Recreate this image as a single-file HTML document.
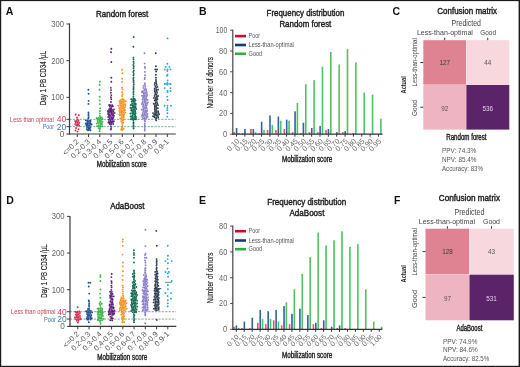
<!DOCTYPE html>
<html><head><meta charset="utf-8"><style>
html,body{margin:0;padding:0;background:#fff;width:520px;height:367px;overflow:hidden}
svg{display:block;will-change:transform}
text{font-family:"Liberation Sans", sans-serif}
</style></head><body>
<svg width="520" height="367" viewBox="0 0 520 367" font-family='"Liberation Sans", sans-serif'><rect x="0.00" y="0.00" width="520.00" height="367.00" fill="#fff"/>
<text x="5.8" y="14.9" font-size="10.5" font-weight="bold" fill="#111" text-anchor="start">A</text>
<text x="198.9" y="15" font-size="10.5" font-weight="bold" fill="#111" text-anchor="start">B</text>
<text x="392.6" y="15" font-size="10.5" font-weight="bold" fill="#111" text-anchor="start">C</text>
<text x="6.2" y="203.7" font-size="10.5" font-weight="bold" fill="#111" text-anchor="start">D</text>
<text x="199.0" y="204.4" font-size="10.5" font-weight="bold" fill="#111" text-anchor="start">E</text>
<text x="394.0" y="203.8" font-size="10.5" font-weight="bold" fill="#111" text-anchor="start">F</text>
<text x="96" y="16.5" font-size="9" font-weight="normal" fill="#1a1a1a" text-anchor="start" textLength="52.3" lengthAdjust="spacingAndGlyphs" stroke="#1a1a1a" stroke-width="0.4">Random forest</text>
<text transform="translate(46.2,78.05) rotate(-90)" font-size="8.4" font-weight="normal" fill="#222" text-anchor="middle" textLength="54.300000000000004" lengthAdjust="spacingAndGlyphs" stroke="#222" stroke-width="0.15">Day 1 PB CD34 /µL</text>
<line x1="69.5" y1="119.332" x2="175.5" y2="119.332" stroke="#5fa898" stroke-width="0.9" stroke-dasharray="2.2 1.2"/>
<line x1="69.5" y1="126.666" x2="175.5" y2="126.666" stroke="#5fa898" stroke-width="0.9" stroke-dasharray="2.2 1.2"/>
<circle cx="75.70" cy="114.50" r="0.95" fill="#d42a4f"/>
<circle cx="78.80" cy="115.20" r="0.95" fill="#d42a4f"/>
<circle cx="77.00" cy="117.50" r="0.95" fill="#d42a4f"/>
<circle cx="77.50" cy="119.40" r="0.95" fill="#d42a4f"/>
<circle cx="76.00" cy="128.00" r="0.95" fill="#d42a4f"/>
<circle cx="78.50" cy="129.30" r="0.95" fill="#d42a4f"/>
<circle cx="75.50" cy="130.50" r="0.95" fill="#d42a4f"/>
<circle cx="77.50" cy="131.60" r="0.95" fill="#d42a4f"/>
<circle cx="75.04" cy="121.09" r="0.95" fill="#d42a4f"/>
<circle cx="76.64" cy="121.02" r="0.95" fill="#d42a4f"/>
<circle cx="78.47" cy="120.73" r="0.95" fill="#d42a4f"/>
<circle cx="75.77" cy="122.46" r="0.95" fill="#d42a4f"/>
<circle cx="77.44" cy="122.25" r="0.95" fill="#d42a4f"/>
<circle cx="79.30" cy="122.70" r="0.95" fill="#d42a4f"/>
<circle cx="75.08" cy="124.08" r="0.95" fill="#d42a4f"/>
<circle cx="77.17" cy="124.05" r="0.95" fill="#d42a4f"/>
<circle cx="78.49" cy="124.29" r="0.95" fill="#d42a4f"/>
<circle cx="76.27" cy="125.37" r="0.95" fill="#d42a4f"/>
<circle cx="77.49" cy="125.27" r="0.95" fill="#d42a4f"/>
<circle cx="79.24" cy="125.69" r="0.95" fill="#d42a4f"/>
<circle cx="88.36" cy="89.70" r="0.95" fill="#1f4f8f"/>
<circle cx="88.60" cy="93.80" r="0.95" fill="#1f4f8f"/>
<circle cx="88.63" cy="100.90" r="0.95" fill="#1f4f8f"/>
<circle cx="88.47" cy="103.90" r="0.95" fill="#1f4f8f"/>
<circle cx="88.44" cy="112.34" r="0.95" fill="#1f4f8f"/>
<circle cx="88.54" cy="113.92" r="0.95" fill="#1f4f8f"/>
<circle cx="88.48" cy="115.56" r="0.95" fill="#1f4f8f"/>
<circle cx="88.61" cy="117.15" r="0.95" fill="#1f4f8f"/>
<circle cx="88.42" cy="118.48" r="0.95" fill="#1f4f8f"/>
<circle cx="85.79" cy="120.35" r="0.95" fill="#1f4f8f"/>
<circle cx="87.37" cy="120.52" r="0.95" fill="#1f4f8f"/>
<circle cx="89.20" cy="120.64" r="0.95" fill="#1f4f8f"/>
<circle cx="90.50" cy="120.79" r="0.95" fill="#1f4f8f"/>
<circle cx="87.25" cy="122.05" r="0.95" fill="#1f4f8f"/>
<circle cx="88.74" cy="121.89" r="0.95" fill="#1f4f8f"/>
<circle cx="90.32" cy="122.00" r="0.95" fill="#1f4f8f"/>
<circle cx="85.72" cy="123.53" r="0.95" fill="#1f4f8f"/>
<circle cx="87.21" cy="123.42" r="0.95" fill="#1f4f8f"/>
<circle cx="89.03" cy="123.35" r="0.95" fill="#1f4f8f"/>
<circle cx="90.60" cy="123.50" r="0.95" fill="#1f4f8f"/>
<circle cx="86.46" cy="124.80" r="0.95" fill="#1f4f8f"/>
<circle cx="87.86" cy="124.82" r="0.95" fill="#1f4f8f"/>
<circle cx="89.86" cy="125.00" r="0.95" fill="#1f4f8f"/>
<circle cx="91.62" cy="124.57" r="0.95" fill="#1f4f8f"/>
<circle cx="86.60" cy="125.81" r="0.95" fill="#1f4f8f"/>
<circle cx="88.13" cy="125.90" r="0.95" fill="#1f4f8f"/>
<circle cx="89.57" cy="125.84" r="0.95" fill="#1f4f8f"/>
<circle cx="87.08" cy="127.35" r="0.95" fill="#1f4f8f"/>
<circle cx="88.88" cy="127.72" r="0.95" fill="#1f4f8f"/>
<circle cx="90.35" cy="127.47" r="0.95" fill="#1f4f8f"/>
<circle cx="86.73" cy="129.09" r="0.95" fill="#1f4f8f"/>
<circle cx="88.37" cy="128.77" r="0.95" fill="#1f4f8f"/>
<circle cx="89.75" cy="128.82" r="0.95" fill="#1f4f8f"/>
<circle cx="87.57" cy="130.09" r="0.95" fill="#1f4f8f"/>
<circle cx="88.76" cy="130.14" r="0.95" fill="#1f4f8f"/>
<circle cx="90.44" cy="130.29" r="0.95" fill="#1f4f8f"/>
<circle cx="99.85" cy="81.80" r="0.95" fill="#3cb54a"/>
<circle cx="99.66" cy="85.00" r="0.95" fill="#3cb54a"/>
<circle cx="99.50" cy="89.70" r="0.95" fill="#3cb54a"/>
<circle cx="99.75" cy="96.80" r="0.95" fill="#3cb54a"/>
<circle cx="99.72" cy="100.50" r="0.95" fill="#3cb54a"/>
<circle cx="99.84" cy="104.30" r="0.95" fill="#3cb54a"/>
<circle cx="100.07" cy="108.40" r="0.95" fill="#3cb54a"/>
<circle cx="99.91" cy="111.00" r="0.95" fill="#3cb54a"/>
<circle cx="99.81" cy="113.50" r="0.95" fill="#3cb54a"/>
<circle cx="99.87" cy="116.00" r="0.95" fill="#3cb54a"/>
<circle cx="96.66" cy="118.04" r="0.95" fill="#3cb54a"/>
<circle cx="98.74" cy="118.02" r="0.95" fill="#3cb54a"/>
<circle cx="100.40" cy="117.74" r="0.95" fill="#3cb54a"/>
<circle cx="101.81" cy="117.56" r="0.95" fill="#3cb54a"/>
<circle cx="97.46" cy="118.94" r="0.95" fill="#3cb54a"/>
<circle cx="99.20" cy="119.00" r="0.95" fill="#3cb54a"/>
<circle cx="100.93" cy="118.93" r="0.95" fill="#3cb54a"/>
<circle cx="102.38" cy="118.99" r="0.95" fill="#3cb54a"/>
<circle cx="97.67" cy="120.32" r="0.95" fill="#3cb54a"/>
<circle cx="99.62" cy="120.67" r="0.95" fill="#3cb54a"/>
<circle cx="100.84" cy="120.45" r="0.95" fill="#3cb54a"/>
<circle cx="97.64" cy="121.77" r="0.95" fill="#3cb54a"/>
<circle cx="99.58" cy="122.30" r="0.95" fill="#3cb54a"/>
<circle cx="101.00" cy="121.99" r="0.95" fill="#3cb54a"/>
<circle cx="102.43" cy="121.76" r="0.95" fill="#3cb54a"/>
<circle cx="96.78" cy="123.60" r="0.95" fill="#3cb54a"/>
<circle cx="98.37" cy="123.11" r="0.95" fill="#3cb54a"/>
<circle cx="100.50" cy="123.42" r="0.95" fill="#3cb54a"/>
<circle cx="101.66" cy="123.43" r="0.95" fill="#3cb54a"/>
<circle cx="98.57" cy="125.09" r="0.95" fill="#3cb54a"/>
<circle cx="100.42" cy="124.92" r="0.95" fill="#3cb54a"/>
<circle cx="101.71" cy="124.72" r="0.95" fill="#3cb54a"/>
<circle cx="97.09" cy="126.22" r="0.95" fill="#3cb54a"/>
<circle cx="98.74" cy="126.10" r="0.95" fill="#3cb54a"/>
<circle cx="100.06" cy="126.39" r="0.95" fill="#3cb54a"/>
<circle cx="102.17" cy="126.41" r="0.95" fill="#3cb54a"/>
<circle cx="98.77" cy="128.14" r="0.95" fill="#3cb54a"/>
<circle cx="100.06" cy="128.01" r="0.95" fill="#3cb54a"/>
<circle cx="99.78" cy="129.22" r="0.95" fill="#3cb54a"/>
<circle cx="99.61" cy="131.12" r="0.95" fill="#3cb54a"/>
<circle cx="111.32" cy="48.80" r="0.95" fill="#5b1f78"/>
<circle cx="111.02" cy="52.30" r="0.95" fill="#5b1f78"/>
<circle cx="111.31" cy="62.00" r="0.95" fill="#5b1f78"/>
<circle cx="111.34" cy="77.70" r="0.95" fill="#5b1f78"/>
<circle cx="111.32" cy="81.80" r="0.95" fill="#5b1f78"/>
<circle cx="110.89" cy="87.83" r="0.95" fill="#5b1f78"/>
<circle cx="111.09" cy="90.12" r="0.95" fill="#5b1f78"/>
<circle cx="110.84" cy="92.67" r="0.95" fill="#5b1f78"/>
<circle cx="111.29" cy="95.10" r="0.95" fill="#5b1f78"/>
<circle cx="110.92" cy="97.29" r="0.95" fill="#5b1f78"/>
<circle cx="111.26" cy="99.25" r="0.95" fill="#5b1f78"/>
<circle cx="110.98" cy="102.05" r="0.95" fill="#5b1f78"/>
<circle cx="109.15" cy="104.99" r="0.95" fill="#5b1f78"/>
<circle cx="110.46" cy="105.17" r="0.95" fill="#5b1f78"/>
<circle cx="112.20" cy="105.18" r="0.95" fill="#5b1f78"/>
<circle cx="109.74" cy="106.39" r="0.95" fill="#5b1f78"/>
<circle cx="111.72" cy="106.58" r="0.95" fill="#5b1f78"/>
<circle cx="112.90" cy="106.23" r="0.95" fill="#5b1f78"/>
<circle cx="110.07" cy="108.08" r="0.95" fill="#5b1f78"/>
<circle cx="111.26" cy="108.10" r="0.95" fill="#5b1f78"/>
<circle cx="109.07" cy="109.26" r="0.95" fill="#5b1f78"/>
<circle cx="110.65" cy="109.13" r="0.95" fill="#5b1f78"/>
<circle cx="111.98" cy="109.63" r="0.95" fill="#5b1f78"/>
<circle cx="114.01" cy="109.37" r="0.95" fill="#5b1f78"/>
<circle cx="108.14" cy="111.02" r="0.95" fill="#5b1f78"/>
<circle cx="110.02" cy="110.63" r="0.95" fill="#5b1f78"/>
<circle cx="111.33" cy="110.68" r="0.95" fill="#5b1f78"/>
<circle cx="112.97" cy="110.85" r="0.95" fill="#5b1f78"/>
<circle cx="108.13" cy="111.28" r="0.95" fill="#5b1f78"/>
<circle cx="110.07" cy="111.41" r="0.95" fill="#5b1f78"/>
<circle cx="111.45" cy="111.55" r="0.95" fill="#5b1f78"/>
<circle cx="113.37" cy="111.45" r="0.95" fill="#5b1f78"/>
<circle cx="108.15" cy="112.92" r="0.95" fill="#5b1f78"/>
<circle cx="109.81" cy="112.61" r="0.95" fill="#5b1f78"/>
<circle cx="111.41" cy="112.71" r="0.95" fill="#5b1f78"/>
<circle cx="112.80" cy="113.08" r="0.95" fill="#5b1f78"/>
<circle cx="114.55" cy="112.88" r="0.95" fill="#5b1f78"/>
<circle cx="108.21" cy="114.20" r="0.95" fill="#5b1f78"/>
<circle cx="109.84" cy="114.33" r="0.95" fill="#5b1f78"/>
<circle cx="111.65" cy="114.06" r="0.95" fill="#5b1f78"/>
<circle cx="113.16" cy="114.15" r="0.95" fill="#5b1f78"/>
<circle cx="109.14" cy="115.70" r="0.95" fill="#5b1f78"/>
<circle cx="110.66" cy="115.86" r="0.95" fill="#5b1f78"/>
<circle cx="112.52" cy="115.67" r="0.95" fill="#5b1f78"/>
<circle cx="113.99" cy="115.70" r="0.95" fill="#5b1f78"/>
<circle cx="108.29" cy="117.07" r="0.95" fill="#5b1f78"/>
<circle cx="109.84" cy="117.09" r="0.95" fill="#5b1f78"/>
<circle cx="111.74" cy="117.22" r="0.95" fill="#5b1f78"/>
<circle cx="113.35" cy="117.37" r="0.95" fill="#5b1f78"/>
<circle cx="109.84" cy="118.77" r="0.95" fill="#5b1f78"/>
<circle cx="111.65" cy="118.28" r="0.95" fill="#5b1f78"/>
<circle cx="112.87" cy="118.47" r="0.95" fill="#5b1f78"/>
<circle cx="108.84" cy="119.64" r="0.95" fill="#5b1f78"/>
<circle cx="110.75" cy="120.07" r="0.95" fill="#5b1f78"/>
<circle cx="112.54" cy="119.69" r="0.95" fill="#5b1f78"/>
<circle cx="109.07" cy="121.09" r="0.95" fill="#5b1f78"/>
<circle cx="110.85" cy="121.58" r="0.95" fill="#5b1f78"/>
<circle cx="112.11" cy="121.57" r="0.95" fill="#5b1f78"/>
<circle cx="113.86" cy="121.29" r="0.95" fill="#5b1f78"/>
<circle cx="108.37" cy="122.50" r="0.95" fill="#5b1f78"/>
<circle cx="109.78" cy="122.71" r="0.95" fill="#5b1f78"/>
<circle cx="111.38" cy="122.52" r="0.95" fill="#5b1f78"/>
<circle cx="113.02" cy="122.83" r="0.95" fill="#5b1f78"/>
<circle cx="109.83" cy="124.06" r="0.95" fill="#5b1f78"/>
<circle cx="111.16" cy="124.00" r="0.95" fill="#5b1f78"/>
<circle cx="113.17" cy="124.11" r="0.95" fill="#5b1f78"/>
<circle cx="110.80" cy="126.29" r="0.95" fill="#5b1f78"/>
<circle cx="111.26" cy="128.08" r="0.95" fill="#5b1f78"/>
<circle cx="110.81" cy="129.46" r="0.95" fill="#5b1f78"/>
<circle cx="122.02" cy="69.70" r="0.95" fill="#f7931e"/>
<circle cx="122.47" cy="73.30" r="0.95" fill="#f7931e"/>
<circle cx="122.16" cy="78.80" r="0.95" fill="#f7931e"/>
<circle cx="122.08" cy="81.90" r="0.95" fill="#f7931e"/>
<circle cx="122.16" cy="87.75" r="0.95" fill="#f7931e"/>
<circle cx="122.52" cy="89.56" r="0.95" fill="#f7931e"/>
<circle cx="122.07" cy="92.15" r="0.95" fill="#f7931e"/>
<circle cx="122.44" cy="94.22" r="0.95" fill="#f7931e"/>
<circle cx="122.06" cy="96.03" r="0.95" fill="#f7931e"/>
<circle cx="122.48" cy="98.46" r="0.95" fill="#f7931e"/>
<circle cx="120.51" cy="100.08" r="0.95" fill="#f7931e"/>
<circle cx="122.08" cy="99.75" r="0.95" fill="#f7931e"/>
<circle cx="123.76" cy="99.74" r="0.95" fill="#f7931e"/>
<circle cx="119.37" cy="101.30" r="0.95" fill="#f7931e"/>
<circle cx="121.08" cy="101.66" r="0.95" fill="#f7931e"/>
<circle cx="122.56" cy="101.18" r="0.95" fill="#f7931e"/>
<circle cx="124.37" cy="101.24" r="0.95" fill="#f7931e"/>
<circle cx="125.77" cy="101.20" r="0.95" fill="#f7931e"/>
<circle cx="120.07" cy="102.69" r="0.95" fill="#f7931e"/>
<circle cx="121.78" cy="102.96" r="0.95" fill="#f7931e"/>
<circle cx="123.42" cy="102.80" r="0.95" fill="#f7931e"/>
<circle cx="120.13" cy="103.91" r="0.95" fill="#f7931e"/>
<circle cx="121.73" cy="103.91" r="0.95" fill="#f7931e"/>
<circle cx="123.66" cy="104.23" r="0.95" fill="#f7931e"/>
<circle cx="124.99" cy="104.18" r="0.95" fill="#f7931e"/>
<circle cx="118.36" cy="105.79" r="0.95" fill="#f7931e"/>
<circle cx="120.21" cy="105.60" r="0.95" fill="#f7931e"/>
<circle cx="122.10" cy="105.54" r="0.95" fill="#f7931e"/>
<circle cx="123.55" cy="105.71" r="0.95" fill="#f7931e"/>
<circle cx="125.49" cy="105.51" r="0.95" fill="#f7931e"/>
<circle cx="120.35" cy="107.08" r="0.95" fill="#f7931e"/>
<circle cx="121.82" cy="106.91" r="0.95" fill="#f7931e"/>
<circle cx="123.26" cy="106.78" r="0.95" fill="#f7931e"/>
<circle cx="124.92" cy="107.14" r="0.95" fill="#f7931e"/>
<circle cx="119.22" cy="108.15" r="0.95" fill="#f7931e"/>
<circle cx="121.28" cy="108.62" r="0.95" fill="#f7931e"/>
<circle cx="122.83" cy="108.27" r="0.95" fill="#f7931e"/>
<circle cx="124.22" cy="108.28" r="0.95" fill="#f7931e"/>
<circle cx="120.02" cy="109.77" r="0.95" fill="#f7931e"/>
<circle cx="121.73" cy="110.08" r="0.95" fill="#f7931e"/>
<circle cx="123.81" cy="109.83" r="0.95" fill="#f7931e"/>
<circle cx="125.02" cy="110.08" r="0.95" fill="#f7931e"/>
<circle cx="119.34" cy="110.90" r="0.95" fill="#f7931e"/>
<circle cx="121.00" cy="111.18" r="0.95" fill="#f7931e"/>
<circle cx="122.73" cy="111.02" r="0.95" fill="#f7931e"/>
<circle cx="124.38" cy="110.90" r="0.95" fill="#f7931e"/>
<circle cx="119.98" cy="112.54" r="0.95" fill="#f7931e"/>
<circle cx="121.60" cy="112.31" r="0.95" fill="#f7931e"/>
<circle cx="123.41" cy="112.44" r="0.95" fill="#f7931e"/>
<circle cx="125.23" cy="112.62" r="0.95" fill="#f7931e"/>
<circle cx="119.52" cy="114.13" r="0.95" fill="#f7931e"/>
<circle cx="121.30" cy="113.93" r="0.95" fill="#f7931e"/>
<circle cx="122.62" cy="114.29" r="0.95" fill="#f7931e"/>
<circle cx="124.16" cy="114.13" r="0.95" fill="#f7931e"/>
<circle cx="119.98" cy="115.20" r="0.95" fill="#f7931e"/>
<circle cx="122.14" cy="115.08" r="0.95" fill="#f7931e"/>
<circle cx="123.69" cy="115.19" r="0.95" fill="#f7931e"/>
<circle cx="121.89" cy="116.50" r="0.95" fill="#f7931e"/>
<circle cx="123.73" cy="116.68" r="0.95" fill="#f7931e"/>
<circle cx="120.30" cy="118.24" r="0.95" fill="#f7931e"/>
<circle cx="122.01" cy="118.12" r="0.95" fill="#f7931e"/>
<circle cx="123.39" cy="117.72" r="0.95" fill="#f7931e"/>
<circle cx="121.79" cy="119.26" r="0.95" fill="#f7931e"/>
<circle cx="123.73" cy="119.54" r="0.95" fill="#f7931e"/>
<circle cx="121.15" cy="121.11" r="0.95" fill="#f7931e"/>
<circle cx="122.72" cy="120.70" r="0.95" fill="#f7931e"/>
<circle cx="122.02" cy="122.50" r="0.95" fill="#f7931e"/>
<circle cx="123.55" cy="122.60" r="0.95" fill="#f7931e"/>
<circle cx="122.25" cy="123.85" r="0.95" fill="#f7931e"/>
<circle cx="122.35" cy="125.64" r="0.95" fill="#f7931e"/>
<circle cx="122.25" cy="127.29" r="0.95" fill="#f7931e"/>
<circle cx="121.80" cy="128.49" r="0.95" fill="#f7931e"/>
<circle cx="123.64" cy="128.66" r="0.95" fill="#f7931e"/>
<circle cx="121.16" cy="129.75" r="0.95" fill="#f7931e"/>
<circle cx="122.51" cy="129.85" r="0.95" fill="#f7931e"/>
<circle cx="133.70" cy="37.00" r="0.95" fill="#0b6b50"/>
<circle cx="133.43" cy="46.80" r="0.95" fill="#0b6b50"/>
<circle cx="133.45" cy="57.71" r="0.95" fill="#0b6b50"/>
<circle cx="133.54" cy="59.61" r="0.95" fill="#0b6b50"/>
<circle cx="133.48" cy="61.62" r="0.95" fill="#0b6b50"/>
<circle cx="133.72" cy="63.12" r="0.95" fill="#0b6b50"/>
<circle cx="133.43" cy="64.98" r="0.95" fill="#0b6b50"/>
<circle cx="133.66" cy="66.52" r="0.95" fill="#0b6b50"/>
<circle cx="133.55" cy="68.32" r="0.95" fill="#0b6b50"/>
<circle cx="133.81" cy="70.51" r="0.95" fill="#0b6b50"/>
<circle cx="133.29" cy="71.98" r="0.95" fill="#0b6b50"/>
<circle cx="133.77" cy="74.03" r="0.95" fill="#0b6b50"/>
<circle cx="133.41" cy="75.36" r="0.95" fill="#0b6b50"/>
<circle cx="133.58" cy="77.52" r="0.95" fill="#0b6b50"/>
<circle cx="133.34" cy="79.05" r="0.95" fill="#0b6b50"/>
<circle cx="133.56" cy="80.76" r="0.95" fill="#0b6b50"/>
<circle cx="133.57" cy="82.28" r="0.95" fill="#0b6b50"/>
<circle cx="133.77" cy="84.26" r="0.95" fill="#0b6b50"/>
<circle cx="133.55" cy="86.12" r="0.95" fill="#0b6b50"/>
<circle cx="133.59" cy="87.99" r="0.95" fill="#0b6b50"/>
<circle cx="133.43" cy="89.21" r="0.95" fill="#0b6b50"/>
<circle cx="133.52" cy="91.25" r="0.95" fill="#0b6b50"/>
<circle cx="133.42" cy="92.88" r="0.95" fill="#0b6b50"/>
<circle cx="133.56" cy="94.66" r="0.95" fill="#0b6b50"/>
<circle cx="133.37" cy="96.70" r="0.95" fill="#0b6b50"/>
<circle cx="133.52" cy="98.40" r="0.95" fill="#0b6b50"/>
<circle cx="131.27" cy="99.26" r="0.95" fill="#0b6b50"/>
<circle cx="133.28" cy="99.24" r="0.95" fill="#0b6b50"/>
<circle cx="134.67" cy="98.92" r="0.95" fill="#0b6b50"/>
<circle cx="132.60" cy="100.50" r="0.95" fill="#0b6b50"/>
<circle cx="133.87" cy="100.41" r="0.95" fill="#0b6b50"/>
<circle cx="135.47" cy="100.18" r="0.95" fill="#0b6b50"/>
<circle cx="131.70" cy="101.77" r="0.95" fill="#0b6b50"/>
<circle cx="133.41" cy="101.75" r="0.95" fill="#0b6b50"/>
<circle cx="134.66" cy="101.91" r="0.95" fill="#0b6b50"/>
<circle cx="132.22" cy="103.62" r="0.95" fill="#0b6b50"/>
<circle cx="134.18" cy="103.54" r="0.95" fill="#0b6b50"/>
<circle cx="135.68" cy="103.60" r="0.95" fill="#0b6b50"/>
<circle cx="130.70" cy="104.93" r="0.95" fill="#0b6b50"/>
<circle cx="132.05" cy="104.94" r="0.95" fill="#0b6b50"/>
<circle cx="133.95" cy="104.95" r="0.95" fill="#0b6b50"/>
<circle cx="135.71" cy="104.67" r="0.95" fill="#0b6b50"/>
<circle cx="132.56" cy="106.03" r="0.95" fill="#0b6b50"/>
<circle cx="133.93" cy="106.16" r="0.95" fill="#0b6b50"/>
<circle cx="135.48" cy="106.39" r="0.95" fill="#0b6b50"/>
<circle cx="130.53" cy="107.79" r="0.95" fill="#0b6b50"/>
<circle cx="132.21" cy="107.73" r="0.95" fill="#0b6b50"/>
<circle cx="133.91" cy="107.50" r="0.95" fill="#0b6b50"/>
<circle cx="135.42" cy="107.52" r="0.95" fill="#0b6b50"/>
<circle cx="131.47" cy="108.98" r="0.95" fill="#0b6b50"/>
<circle cx="133.37" cy="109.45" r="0.95" fill="#0b6b50"/>
<circle cx="134.74" cy="108.93" r="0.95" fill="#0b6b50"/>
<circle cx="136.24" cy="108.90" r="0.95" fill="#0b6b50"/>
<circle cx="131.25" cy="110.44" r="0.95" fill="#0b6b50"/>
<circle cx="133.01" cy="110.64" r="0.95" fill="#0b6b50"/>
<circle cx="135.03" cy="110.75" r="0.95" fill="#0b6b50"/>
<circle cx="132.25" cy="112.06" r="0.95" fill="#0b6b50"/>
<circle cx="133.88" cy="111.95" r="0.95" fill="#0b6b50"/>
<circle cx="135.34" cy="111.92" r="0.95" fill="#0b6b50"/>
<circle cx="130.45" cy="113.50" r="0.95" fill="#0b6b50"/>
<circle cx="132.40" cy="113.72" r="0.95" fill="#0b6b50"/>
<circle cx="133.80" cy="113.36" r="0.95" fill="#0b6b50"/>
<circle cx="135.47" cy="113.44" r="0.95" fill="#0b6b50"/>
<circle cx="132.57" cy="115.16" r="0.95" fill="#0b6b50"/>
<circle cx="134.17" cy="114.66" r="0.95" fill="#0b6b50"/>
<circle cx="135.32" cy="115.08" r="0.95" fill="#0b6b50"/>
<circle cx="130.66" cy="116.45" r="0.95" fill="#0b6b50"/>
<circle cx="132.03" cy="116.33" r="0.95" fill="#0b6b50"/>
<circle cx="134.23" cy="116.60" r="0.95" fill="#0b6b50"/>
<circle cx="135.84" cy="116.68" r="0.95" fill="#0b6b50"/>
<circle cx="132.07" cy="117.64" r="0.95" fill="#0b6b50"/>
<circle cx="133.96" cy="117.96" r="0.95" fill="#0b6b50"/>
<circle cx="135.86" cy="117.98" r="0.95" fill="#0b6b50"/>
<circle cx="130.83" cy="119.27" r="0.95" fill="#0b6b50"/>
<circle cx="132.36" cy="119.02" r="0.95" fill="#0b6b50"/>
<circle cx="134.14" cy="119.14" r="0.95" fill="#0b6b50"/>
<circle cx="135.88" cy="119.39" r="0.95" fill="#0b6b50"/>
<circle cx="133.37" cy="120.28" r="0.95" fill="#0b6b50"/>
<circle cx="133.60" cy="122.18" r="0.95" fill="#0b6b50"/>
<circle cx="133.49" cy="123.47" r="0.95" fill="#0b6b50"/>
<circle cx="133.54" cy="125.31" r="0.95" fill="#0b6b50"/>
<circle cx="133.45" cy="126.83" r="0.95" fill="#0b6b50"/>
<circle cx="133.59" cy="128.56" r="0.95" fill="#0b6b50"/>
<circle cx="144.51" cy="53.30" r="0.95" fill="#8a7fc8"/>
<circle cx="144.68" cy="63.60" r="0.95" fill="#8a7fc8"/>
<circle cx="144.78" cy="66.90" r="0.95" fill="#8a7fc8"/>
<circle cx="145.08" cy="68.00" r="0.95" fill="#8a7fc8"/>
<circle cx="144.89" cy="71.90" r="0.95" fill="#8a7fc8"/>
<circle cx="145.03" cy="75.30" r="0.95" fill="#8a7fc8"/>
<circle cx="144.79" cy="77.60" r="0.95" fill="#8a7fc8"/>
<circle cx="144.64" cy="79.00" r="0.95" fill="#8a7fc8"/>
<circle cx="144.82" cy="83.12" r="0.95" fill="#8a7fc8"/>
<circle cx="144.78" cy="84.50" r="0.95" fill="#8a7fc8"/>
<circle cx="143.53" cy="85.85" r="0.95" fill="#8a7fc8"/>
<circle cx="145.33" cy="86.26" r="0.95" fill="#8a7fc8"/>
<circle cx="143.30" cy="87.90" r="0.95" fill="#8a7fc8"/>
<circle cx="145.18" cy="88.11" r="0.95" fill="#8a7fc8"/>
<circle cx="144.55" cy="89.64" r="0.95" fill="#8a7fc8"/>
<circle cx="146.03" cy="89.32" r="0.95" fill="#8a7fc8"/>
<circle cx="142.64" cy="91.19" r="0.95" fill="#8a7fc8"/>
<circle cx="144.24" cy="90.83" r="0.95" fill="#8a7fc8"/>
<circle cx="146.21" cy="90.88" r="0.95" fill="#8a7fc8"/>
<circle cx="141.92" cy="92.31" r="0.95" fill="#8a7fc8"/>
<circle cx="143.41" cy="92.45" r="0.95" fill="#8a7fc8"/>
<circle cx="145.32" cy="92.77" r="0.95" fill="#8a7fc8"/>
<circle cx="146.66" cy="92.44" r="0.95" fill="#8a7fc8"/>
<circle cx="143.83" cy="93.74" r="0.95" fill="#8a7fc8"/>
<circle cx="144.93" cy="93.69" r="0.95" fill="#8a7fc8"/>
<circle cx="146.79" cy="94.19" r="0.95" fill="#8a7fc8"/>
<circle cx="142.06" cy="95.70" r="0.95" fill="#8a7fc8"/>
<circle cx="143.83" cy="95.30" r="0.95" fill="#8a7fc8"/>
<circle cx="145.04" cy="95.66" r="0.95" fill="#8a7fc8"/>
<circle cx="147.02" cy="95.12" r="0.95" fill="#8a7fc8"/>
<circle cx="143.48" cy="96.77" r="0.95" fill="#8a7fc8"/>
<circle cx="145.10" cy="96.65" r="0.95" fill="#8a7fc8"/>
<circle cx="146.55" cy="96.72" r="0.95" fill="#8a7fc8"/>
<circle cx="143.02" cy="98.07" r="0.95" fill="#8a7fc8"/>
<circle cx="144.68" cy="98.12" r="0.95" fill="#8a7fc8"/>
<circle cx="145.96" cy="98.49" r="0.95" fill="#8a7fc8"/>
<circle cx="142.68" cy="99.48" r="0.95" fill="#8a7fc8"/>
<circle cx="144.36" cy="99.67" r="0.95" fill="#8a7fc8"/>
<circle cx="146.28" cy="99.57" r="0.95" fill="#8a7fc8"/>
<circle cx="147.59" cy="99.99" r="0.95" fill="#8a7fc8"/>
<circle cx="142.70" cy="101.39" r="0.95" fill="#8a7fc8"/>
<circle cx="144.56" cy="100.92" r="0.95" fill="#8a7fc8"/>
<circle cx="145.77" cy="100.94" r="0.95" fill="#8a7fc8"/>
<circle cx="142.58" cy="102.80" r="0.95" fill="#8a7fc8"/>
<circle cx="144.61" cy="102.55" r="0.95" fill="#8a7fc8"/>
<circle cx="145.89" cy="102.92" r="0.95" fill="#8a7fc8"/>
<circle cx="147.75" cy="102.51" r="0.95" fill="#8a7fc8"/>
<circle cx="141.81" cy="103.97" r="0.95" fill="#8a7fc8"/>
<circle cx="143.28" cy="104.25" r="0.95" fill="#8a7fc8"/>
<circle cx="145.47" cy="104.18" r="0.95" fill="#8a7fc8"/>
<circle cx="147.14" cy="103.81" r="0.95" fill="#8a7fc8"/>
<circle cx="143.54" cy="105.82" r="0.95" fill="#8a7fc8"/>
<circle cx="145.47" cy="105.48" r="0.95" fill="#8a7fc8"/>
<circle cx="146.70" cy="105.51" r="0.95" fill="#8a7fc8"/>
<circle cx="143.01" cy="106.81" r="0.95" fill="#8a7fc8"/>
<circle cx="144.58" cy="107.14" r="0.95" fill="#8a7fc8"/>
<circle cx="146.24" cy="107.16" r="0.95" fill="#8a7fc8"/>
<circle cx="143.45" cy="108.34" r="0.95" fill="#8a7fc8"/>
<circle cx="145.12" cy="108.62" r="0.95" fill="#8a7fc8"/>
<circle cx="146.60" cy="108.27" r="0.95" fill="#8a7fc8"/>
<circle cx="141.77" cy="109.64" r="0.95" fill="#8a7fc8"/>
<circle cx="143.30" cy="109.93" r="0.95" fill="#8a7fc8"/>
<circle cx="145.12" cy="110.19" r="0.95" fill="#8a7fc8"/>
<circle cx="147.11" cy="110.19" r="0.95" fill="#8a7fc8"/>
<circle cx="143.30" cy="111.11" r="0.95" fill="#8a7fc8"/>
<circle cx="145.20" cy="111.48" r="0.95" fill="#8a7fc8"/>
<circle cx="146.82" cy="111.19" r="0.95" fill="#8a7fc8"/>
<circle cx="142.82" cy="112.90" r="0.95" fill="#8a7fc8"/>
<circle cx="144.55" cy="113.01" r="0.95" fill="#8a7fc8"/>
<circle cx="146.15" cy="112.57" r="0.95" fill="#8a7fc8"/>
<circle cx="142.60" cy="114.29" r="0.95" fill="#8a7fc8"/>
<circle cx="144.30" cy="114.39" r="0.95" fill="#8a7fc8"/>
<circle cx="145.84" cy="114.10" r="0.95" fill="#8a7fc8"/>
<circle cx="147.52" cy="114.04" r="0.95" fill="#8a7fc8"/>
<circle cx="141.97" cy="115.60" r="0.95" fill="#8a7fc8"/>
<circle cx="143.51" cy="116.00" r="0.95" fill="#8a7fc8"/>
<circle cx="145.23" cy="115.54" r="0.95" fill="#8a7fc8"/>
<circle cx="147.06" cy="115.79" r="0.95" fill="#8a7fc8"/>
<circle cx="142.49" cy="117.13" r="0.95" fill="#8a7fc8"/>
<circle cx="144.57" cy="117.35" r="0.95" fill="#8a7fc8"/>
<circle cx="146.27" cy="116.87" r="0.95" fill="#8a7fc8"/>
<circle cx="147.55" cy="116.92" r="0.95" fill="#8a7fc8"/>
<circle cx="143.03" cy="118.65" r="0.95" fill="#8a7fc8"/>
<circle cx="144.66" cy="118.52" r="0.95" fill="#8a7fc8"/>
<circle cx="146.27" cy="118.57" r="0.95" fill="#8a7fc8"/>
<circle cx="144.61" cy="120.17" r="0.95" fill="#8a7fc8"/>
<circle cx="145.05" cy="121.56" r="0.95" fill="#8a7fc8"/>
<circle cx="144.71" cy="123.67" r="0.95" fill="#8a7fc8"/>
<circle cx="144.84" cy="125.32" r="0.95" fill="#8a7fc8"/>
<circle cx="144.57" cy="127.02" r="0.95" fill="#8a7fc8"/>
<circle cx="144.85" cy="129.06" r="0.95" fill="#8a7fc8"/>
<circle cx="144.73" cy="130.62" r="0.95" fill="#8a7fc8"/>
<circle cx="155.76" cy="53.30" r="0.95" fill="#2c3e50"/>
<circle cx="155.95" cy="66.20" r="0.95" fill="#2c3e50"/>
<circle cx="155.30" cy="69.50" r="0.95" fill="#2c3e50"/>
<circle cx="157.00" cy="69.50" r="0.95" fill="#2c3e50"/>
<circle cx="156.16" cy="71.50" r="0.95" fill="#2c3e50"/>
<circle cx="155.86" cy="74.80" r="0.95" fill="#2c3e50"/>
<circle cx="155.94" cy="77.70" r="0.95" fill="#2c3e50"/>
<circle cx="156.02" cy="80.03" r="0.95" fill="#2c3e50"/>
<circle cx="156.05" cy="81.54" r="0.95" fill="#2c3e50"/>
<circle cx="154.91" cy="82.95" r="0.95" fill="#2c3e50"/>
<circle cx="156.27" cy="83.32" r="0.95" fill="#2c3e50"/>
<circle cx="154.69" cy="84.88" r="0.95" fill="#2c3e50"/>
<circle cx="156.75" cy="84.89" r="0.95" fill="#2c3e50"/>
<circle cx="155.54" cy="86.55" r="0.95" fill="#2c3e50"/>
<circle cx="157.49" cy="86.90" r="0.95" fill="#2c3e50"/>
<circle cx="154.64" cy="88.34" r="0.95" fill="#2c3e50"/>
<circle cx="156.30" cy="87.90" r="0.95" fill="#2c3e50"/>
<circle cx="154.75" cy="89.99" r="0.95" fill="#2c3e50"/>
<circle cx="156.39" cy="90.03" r="0.95" fill="#2c3e50"/>
<circle cx="158.08" cy="89.60" r="0.95" fill="#2c3e50"/>
<circle cx="154.86" cy="91.48" r="0.95" fill="#2c3e50"/>
<circle cx="156.72" cy="91.15" r="0.95" fill="#2c3e50"/>
<circle cx="155.55" cy="93.00" r="0.95" fill="#2c3e50"/>
<circle cx="157.06" cy="92.87" r="0.95" fill="#2c3e50"/>
<circle cx="155.08" cy="94.37" r="0.95" fill="#2c3e50"/>
<circle cx="156.47" cy="94.78" r="0.95" fill="#2c3e50"/>
<circle cx="154.62" cy="95.98" r="0.95" fill="#2c3e50"/>
<circle cx="156.72" cy="96.49" r="0.95" fill="#2c3e50"/>
<circle cx="158.09" cy="95.93" r="0.95" fill="#2c3e50"/>
<circle cx="153.93" cy="98.04" r="0.95" fill="#2c3e50"/>
<circle cx="155.72" cy="97.99" r="0.95" fill="#2c3e50"/>
<circle cx="157.10" cy="97.97" r="0.95" fill="#2c3e50"/>
<circle cx="155.57" cy="99.61" r="0.95" fill="#2c3e50"/>
<circle cx="157.47" cy="99.21" r="0.95" fill="#2c3e50"/>
<circle cx="154.76" cy="100.51" r="0.95" fill="#2c3e50"/>
<circle cx="156.41" cy="100.27" r="0.95" fill="#2c3e50"/>
<circle cx="155.76" cy="102.29" r="0.95" fill="#2c3e50"/>
<circle cx="157.00" cy="102.09" r="0.95" fill="#2c3e50"/>
<circle cx="153.72" cy="103.80" r="0.95" fill="#2c3e50"/>
<circle cx="155.42" cy="103.66" r="0.95" fill="#2c3e50"/>
<circle cx="157.33" cy="103.68" r="0.95" fill="#2c3e50"/>
<circle cx="154.75" cy="105.20" r="0.95" fill="#2c3e50"/>
<circle cx="156.41" cy="105.25" r="0.95" fill="#2c3e50"/>
<circle cx="158.07" cy="105.11" r="0.95" fill="#2c3e50"/>
<circle cx="154.90" cy="106.69" r="0.95" fill="#2c3e50"/>
<circle cx="156.32" cy="106.86" r="0.95" fill="#2c3e50"/>
<circle cx="154.77" cy="108.06" r="0.95" fill="#2c3e50"/>
<circle cx="156.43" cy="108.01" r="0.95" fill="#2c3e50"/>
<circle cx="157.88" cy="108.21" r="0.95" fill="#2c3e50"/>
<circle cx="154.79" cy="109.81" r="0.95" fill="#2c3e50"/>
<circle cx="156.20" cy="109.88" r="0.95" fill="#2c3e50"/>
<circle cx="154.94" cy="111.52" r="0.95" fill="#2c3e50"/>
<circle cx="156.46" cy="111.08" r="0.95" fill="#2c3e50"/>
<circle cx="158.10" cy="111.28" r="0.95" fill="#2c3e50"/>
<circle cx="152.96" cy="113.11" r="0.95" fill="#2c3e50"/>
<circle cx="155.12" cy="113.04" r="0.95" fill="#2c3e50"/>
<circle cx="156.66" cy="112.72" r="0.95" fill="#2c3e50"/>
<circle cx="158.41" cy="112.90" r="0.95" fill="#2c3e50"/>
<circle cx="154.22" cy="114.25" r="0.95" fill="#2c3e50"/>
<circle cx="155.80" cy="114.71" r="0.95" fill="#2c3e50"/>
<circle cx="157.01" cy="114.36" r="0.95" fill="#2c3e50"/>
<circle cx="159.08" cy="114.25" r="0.95" fill="#2c3e50"/>
<circle cx="153.04" cy="116.19" r="0.95" fill="#2c3e50"/>
<circle cx="154.61" cy="116.00" r="0.95" fill="#2c3e50"/>
<circle cx="156.73" cy="115.82" r="0.95" fill="#2c3e50"/>
<circle cx="157.98" cy="116.00" r="0.95" fill="#2c3e50"/>
<circle cx="154.52" cy="117.36" r="0.95" fill="#2c3e50"/>
<circle cx="156.25" cy="117.81" r="0.95" fill="#2c3e50"/>
<circle cx="158.21" cy="117.79" r="0.95" fill="#2c3e50"/>
<circle cx="156.02" cy="118.77" r="0.95" fill="#2c3e50"/>
<circle cx="156.21" cy="120.42" r="0.95" fill="#2c3e50"/>
<circle cx="167.52" cy="38.40" r="0.95" fill="#1ea7e8"/>
<circle cx="167.33" cy="63.80" r="0.95" fill="#1ea7e8"/>
<circle cx="165.70" cy="66.90" r="0.95" fill="#1ea7e8"/>
<circle cx="169.50" cy="66.90" r="0.95" fill="#1ea7e8"/>
<circle cx="164.70" cy="69.50" r="0.95" fill="#1ea7e8"/>
<circle cx="167.60" cy="69.50" r="0.95" fill="#1ea7e8"/>
<circle cx="170.50" cy="69.50" r="0.95" fill="#1ea7e8"/>
<circle cx="167.35" cy="71.00" r="0.95" fill="#1ea7e8"/>
<circle cx="167.53" cy="74.80" r="0.95" fill="#1ea7e8"/>
<circle cx="167.06" cy="75.70" r="0.95" fill="#1ea7e8"/>
<circle cx="167.60" cy="80.50" r="0.95" fill="#1ea7e8"/>
<circle cx="167.38" cy="82.90" r="0.95" fill="#1ea7e8"/>
<circle cx="164.70" cy="83.90" r="0.95" fill="#1ea7e8"/>
<circle cx="170.50" cy="83.90" r="0.95" fill="#1ea7e8"/>
<circle cx="167.24" cy="84.60" r="0.95" fill="#1ea7e8"/>
<circle cx="164.70" cy="88.10" r="0.95" fill="#1ea7e8"/>
<circle cx="170.50" cy="88.10" r="0.95" fill="#1ea7e8"/>
<circle cx="167.60" cy="91.00" r="0.95" fill="#1ea7e8"/>
<circle cx="170.50" cy="91.00" r="0.95" fill="#1ea7e8"/>
<circle cx="167.48" cy="92.00" r="0.95" fill="#1ea7e8"/>
<circle cx="167.16" cy="96.60" r="0.95" fill="#1ea7e8"/>
<circle cx="167.59" cy="100.00" r="0.95" fill="#1ea7e8"/>
<circle cx="164.60" cy="105.70" r="0.95" fill="#1ea7e8"/>
<circle cx="167.50" cy="105.70" r="0.95" fill="#1ea7e8"/>
<circle cx="170.90" cy="105.70" r="0.95" fill="#1ea7e8"/>
<circle cx="167.35" cy="108.00" r="0.95" fill="#1ea7e8"/>
<circle cx="167.22" cy="110.30" r="0.95" fill="#1ea7e8"/>
<circle cx="167.46" cy="113.20" r="0.95" fill="#1ea7e8"/>
<circle cx="167.27" cy="116.60" r="0.95" fill="#1ea7e8"/>
<line x1="164.6" y1="83.9" x2="171.2" y2="83.9" stroke="#1ea7e8" stroke-width="1.0"/>
<line x1="69.5" y1="23.5" x2="69.5" y2="134.6" stroke="#3a3a3a" stroke-width="1.2"/>
<line x1="68.9" y1="134.0" x2="175.8" y2="134.0" stroke="#3a3a3a" stroke-width="1.2"/>
<line x1="66.5" y1="23.989999999999995" x2="69.5" y2="23.989999999999995" stroke="#3a3a3a" stroke-width="1"/>
<text x="64.0" y="26.989999999999995" font-size="8.6" font-weight="normal" fill="#666" text-anchor="end" textLength="12.8" lengthAdjust="spacingAndGlyphs">300</text>
<line x1="66.5" y1="60.66" x2="69.5" y2="60.66" stroke="#3a3a3a" stroke-width="1"/>
<text x="64.0" y="63.66" font-size="8.6" font-weight="normal" fill="#666" text-anchor="end" textLength="12.8" lengthAdjust="spacingAndGlyphs">200</text>
<line x1="66.5" y1="97.33" x2="69.5" y2="97.33" stroke="#3a3a3a" stroke-width="1"/>
<text x="64.0" y="100.33" font-size="8.6" font-weight="normal" fill="#666" text-anchor="end" textLength="12.8" lengthAdjust="spacingAndGlyphs">100</text>
<line x1="66.5" y1="134.0" x2="69.5" y2="134.0" stroke="#3a3a3a" stroke-width="1"/>
<text x="64.3" y="137.0" font-size="8.6" font-weight="normal" fill="#666" text-anchor="end" textLength="4.6" lengthAdjust="spacingAndGlyphs">0</text>
<line x1="66.5" y1="119.332" x2="69.5" y2="119.332" stroke="#3a3a3a" stroke-width="1"/>
<line x1="66.5" y1="126.666" x2="69.5" y2="126.666" stroke="#3a3a3a" stroke-width="1"/>
<text x="66.3" y="122.232" font-size="9" font-weight="normal" fill="#d0415a" text-anchor="end" textLength="9.5" lengthAdjust="spacingAndGlyphs">40</text>
<text x="66.3" y="129.566" font-size="9" font-weight="normal" fill="#3f79ad" text-anchor="end" textLength="9.5" lengthAdjust="spacingAndGlyphs">20</text>
<text x="10.1" y="121.93199999999999" font-size="7.2" font-weight="normal" fill="#d0415a" text-anchor="start" textLength="43.6" lengthAdjust="spacingAndGlyphs">Less than optimal</text>
<text x="42.7" y="129.266" font-size="7.2" font-weight="normal" fill="#3f79ad" text-anchor="start" textLength="11.4" lengthAdjust="spacingAndGlyphs">Poor</text>
<line x1="77.3" y1="134.0" x2="77.3" y2="137.0" stroke="#3a3a3a" stroke-width="1"/>
<text transform="translate(79.3,142.2) rotate(-45)" font-size="7.6" font-weight="normal" fill="#555" text-anchor="end">&lt;=0.2</text>
<line x1="88.55" y1="134.0" x2="88.55" y2="137.0" stroke="#3a3a3a" stroke-width="1"/>
<text transform="translate(90.55,142.2) rotate(-45)" font-size="7.6" font-weight="normal" fill="#555" text-anchor="end">0.2-0.3</text>
<line x1="99.8" y1="134.0" x2="99.8" y2="137.0" stroke="#3a3a3a" stroke-width="1"/>
<text transform="translate(101.8,142.2) rotate(-45)" font-size="7.6" font-weight="normal" fill="#555" text-anchor="end">0.3-0.4</text>
<line x1="111.05" y1="134.0" x2="111.05" y2="137.0" stroke="#3a3a3a" stroke-width="1"/>
<text transform="translate(113.05,142.2) rotate(-45)" font-size="7.6" font-weight="normal" fill="#555" text-anchor="end">0.4-0.5</text>
<line x1="122.3" y1="134.0" x2="122.3" y2="137.0" stroke="#3a3a3a" stroke-width="1"/>
<text transform="translate(124.3,142.2) rotate(-45)" font-size="7.6" font-weight="normal" fill="#555" text-anchor="end">0.5-0.6</text>
<line x1="133.55" y1="134.0" x2="133.55" y2="137.0" stroke="#3a3a3a" stroke-width="1"/>
<text transform="translate(135.55,142.2) rotate(-45)" font-size="7.6" font-weight="normal" fill="#555" text-anchor="end">0.6-0.7</text>
<line x1="144.8" y1="134.0" x2="144.8" y2="137.0" stroke="#3a3a3a" stroke-width="1"/>
<text transform="translate(146.8,142.2) rotate(-45)" font-size="7.6" font-weight="normal" fill="#555" text-anchor="end">0.7-0.8</text>
<line x1="156.05" y1="134.0" x2="156.05" y2="137.0" stroke="#3a3a3a" stroke-width="1"/>
<text transform="translate(158.05,142.2) rotate(-45)" font-size="7.6" font-weight="normal" fill="#555" text-anchor="end">0.8-0.9</text>
<line x1="167.3" y1="134.0" x2="167.3" y2="137.0" stroke="#3a3a3a" stroke-width="1"/>
<text transform="translate(169.3,142.2) rotate(-45)" font-size="7.6" font-weight="normal" fill="#555" text-anchor="end">0.9-1</text>
<text x="96.8" y="167.3" font-size="8.6" font-weight="normal" fill="#222" text-anchor="start" textLength="50" lengthAdjust="spacingAndGlyphs" stroke="#222" stroke-width="0.4">Mobilization score</text>
<text x="110.2" y="208.9" font-size="9" font-weight="normal" fill="#1a1a1a" text-anchor="start" textLength="34.3" lengthAdjust="spacingAndGlyphs" stroke="#1a1a1a" stroke-width="0.4">AdaBoost</text>
<text transform="translate(46.7,271.0) rotate(-90)" font-size="8.4" font-weight="normal" fill="#222" text-anchor="middle" textLength="53.39999999999998" lengthAdjust="spacingAndGlyphs" stroke="#222" stroke-width="0.15">Day 1 PB CD34 /µL</text>
<line x1="70.0" y1="311.73199999999997" x2="176.0" y2="311.73199999999997" stroke="#8a8a8a" stroke-width="0.9" stroke-dasharray="2.2 1.2"/>
<line x1="70.0" y1="319.066" x2="176.0" y2="319.066" stroke="#8a8a8a" stroke-width="0.9" stroke-dasharray="2.2 1.2"/>
<circle cx="77.61" cy="307.20" r="0.95" fill="#d42a4f"/>
<circle cx="75.48" cy="311.69" r="0.95" fill="#d42a4f"/>
<circle cx="77.25" cy="311.58" r="0.95" fill="#d42a4f"/>
<circle cx="79.34" cy="311.55" r="0.95" fill="#d42a4f"/>
<circle cx="76.44" cy="312.75" r="0.95" fill="#d42a4f"/>
<circle cx="77.92" cy="312.84" r="0.95" fill="#d42a4f"/>
<circle cx="79.92" cy="313.01" r="0.95" fill="#d42a4f"/>
<circle cx="75.99" cy="314.38" r="0.95" fill="#d42a4f"/>
<circle cx="77.24" cy="314.69" r="0.95" fill="#d42a4f"/>
<circle cx="78.76" cy="314.30" r="0.95" fill="#d42a4f"/>
<circle cx="76.31" cy="316.06" r="0.95" fill="#d42a4f"/>
<circle cx="78.03" cy="316.20" r="0.95" fill="#d42a4f"/>
<circle cx="79.90" cy="315.97" r="0.95" fill="#d42a4f"/>
<circle cx="74.91" cy="317.48" r="0.95" fill="#d42a4f"/>
<circle cx="76.84" cy="317.55" r="0.95" fill="#d42a4f"/>
<circle cx="78.01" cy="317.46" r="0.95" fill="#d42a4f"/>
<circle cx="79.96" cy="317.92" r="0.95" fill="#d42a4f"/>
<circle cx="75.67" cy="319.11" r="0.95" fill="#d42a4f"/>
<circle cx="77.08" cy="319.34" r="0.95" fill="#d42a4f"/>
<circle cx="79.06" cy="319.16" r="0.95" fill="#d42a4f"/>
<circle cx="80.76" cy="319.22" r="0.95" fill="#d42a4f"/>
<circle cx="76.72" cy="320.85" r="0.95" fill="#d42a4f"/>
<circle cx="78.47" cy="320.73" r="0.95" fill="#d42a4f"/>
<circle cx="77.89" cy="322.44" r="0.95" fill="#d42a4f"/>
<circle cx="88.50" cy="282.70" r="0.95" fill="#1f4f8f"/>
<circle cx="90.30" cy="282.70" r="0.95" fill="#1f4f8f"/>
<circle cx="88.79" cy="286.50" r="0.95" fill="#1f4f8f"/>
<circle cx="89.22" cy="293.60" r="0.95" fill="#1f4f8f"/>
<circle cx="88.76" cy="300.40" r="0.95" fill="#1f4f8f"/>
<circle cx="89.06" cy="301.79" r="0.95" fill="#1f4f8f"/>
<circle cx="89.20" cy="303.70" r="0.95" fill="#1f4f8f"/>
<circle cx="89.02" cy="305.20" r="0.95" fill="#1f4f8f"/>
<circle cx="89.11" cy="306.83" r="0.95" fill="#1f4f8f"/>
<circle cx="87.99" cy="308.93" r="0.95" fill="#1f4f8f"/>
<circle cx="89.18" cy="309.01" r="0.95" fill="#1f4f8f"/>
<circle cx="86.15" cy="311.15" r="0.95" fill="#1f4f8f"/>
<circle cx="87.80" cy="310.84" r="0.95" fill="#1f4f8f"/>
<circle cx="89.24" cy="310.84" r="0.95" fill="#1f4f8f"/>
<circle cx="90.85" cy="310.90" r="0.95" fill="#1f4f8f"/>
<circle cx="87.09" cy="312.66" r="0.95" fill="#1f4f8f"/>
<circle cx="88.75" cy="312.31" r="0.95" fill="#1f4f8f"/>
<circle cx="90.31" cy="312.41" r="0.95" fill="#1f4f8f"/>
<circle cx="92.10" cy="312.46" r="0.95" fill="#1f4f8f"/>
<circle cx="87.09" cy="314.18" r="0.95" fill="#1f4f8f"/>
<circle cx="88.48" cy="314.13" r="0.95" fill="#1f4f8f"/>
<circle cx="90.01" cy="313.76" r="0.95" fill="#1f4f8f"/>
<circle cx="87.95" cy="315.62" r="0.95" fill="#1f4f8f"/>
<circle cx="89.60" cy="315.25" r="0.95" fill="#1f4f8f"/>
<circle cx="91.33" cy="315.25" r="0.95" fill="#1f4f8f"/>
<circle cx="87.24" cy="316.88" r="0.95" fill="#1f4f8f"/>
<circle cx="88.77" cy="316.90" r="0.95" fill="#1f4f8f"/>
<circle cx="90.59" cy="316.78" r="0.95" fill="#1f4f8f"/>
<circle cx="87.09" cy="318.46" r="0.95" fill="#1f4f8f"/>
<circle cx="88.59" cy="318.38" r="0.95" fill="#1f4f8f"/>
<circle cx="90.32" cy="318.13" r="0.95" fill="#1f4f8f"/>
<circle cx="91.75" cy="318.32" r="0.95" fill="#1f4f8f"/>
<circle cx="87.25" cy="319.49" r="0.95" fill="#1f4f8f"/>
<circle cx="88.37" cy="319.46" r="0.95" fill="#1f4f8f"/>
<circle cx="90.56" cy="319.61" r="0.95" fill="#1f4f8f"/>
<circle cx="88.79" cy="322.22" r="0.95" fill="#1f4f8f"/>
<circle cx="100.42" cy="275.20" r="0.95" fill="#3cb54a"/>
<circle cx="100.38" cy="277.00" r="0.95" fill="#3cb54a"/>
<circle cx="100.42" cy="281.00" r="0.95" fill="#3cb54a"/>
<circle cx="100.44" cy="289.50" r="0.95" fill="#3cb54a"/>
<circle cx="100.04" cy="293.60" r="0.95" fill="#3cb54a"/>
<circle cx="100.35" cy="297.70" r="0.95" fill="#3cb54a"/>
<circle cx="100.28" cy="301.99" r="0.95" fill="#3cb54a"/>
<circle cx="99.61" cy="303.72" r="0.95" fill="#3cb54a"/>
<circle cx="101.77" cy="303.77" r="0.95" fill="#3cb54a"/>
<circle cx="100.09" cy="304.97" r="0.95" fill="#3cb54a"/>
<circle cx="100.52" cy="307.09" r="0.95" fill="#3cb54a"/>
<circle cx="97.62" cy="308.68" r="0.95" fill="#3cb54a"/>
<circle cx="98.95" cy="308.36" r="0.95" fill="#3cb54a"/>
<circle cx="100.48" cy="308.75" r="0.95" fill="#3cb54a"/>
<circle cx="102.20" cy="308.49" r="0.95" fill="#3cb54a"/>
<circle cx="98.76" cy="309.90" r="0.95" fill="#3cb54a"/>
<circle cx="100.57" cy="310.18" r="0.95" fill="#3cb54a"/>
<circle cx="102.27" cy="309.94" r="0.95" fill="#3cb54a"/>
<circle cx="97.43" cy="311.71" r="0.95" fill="#3cb54a"/>
<circle cx="99.15" cy="311.22" r="0.95" fill="#3cb54a"/>
<circle cx="100.67" cy="311.46" r="0.95" fill="#3cb54a"/>
<circle cx="102.54" cy="311.41" r="0.95" fill="#3cb54a"/>
<circle cx="98.25" cy="312.78" r="0.95" fill="#3cb54a"/>
<circle cx="100.09" cy="312.70" r="0.95" fill="#3cb54a"/>
<circle cx="101.72" cy="312.75" r="0.95" fill="#3cb54a"/>
<circle cx="102.88" cy="312.77" r="0.95" fill="#3cb54a"/>
<circle cx="97.71" cy="314.10" r="0.95" fill="#3cb54a"/>
<circle cx="99.07" cy="314.39" r="0.95" fill="#3cb54a"/>
<circle cx="100.90" cy="314.21" r="0.95" fill="#3cb54a"/>
<circle cx="102.37" cy="314.31" r="0.95" fill="#3cb54a"/>
<circle cx="98.08" cy="316.12" r="0.95" fill="#3cb54a"/>
<circle cx="99.75" cy="315.68" r="0.95" fill="#3cb54a"/>
<circle cx="101.64" cy="315.85" r="0.95" fill="#3cb54a"/>
<circle cx="102.94" cy="315.93" r="0.95" fill="#3cb54a"/>
<circle cx="98.42" cy="317.42" r="0.95" fill="#3cb54a"/>
<circle cx="100.07" cy="317.38" r="0.95" fill="#3cb54a"/>
<circle cx="101.46" cy="317.24" r="0.95" fill="#3cb54a"/>
<circle cx="98.46" cy="318.50" r="0.95" fill="#3cb54a"/>
<circle cx="100.11" cy="318.47" r="0.95" fill="#3cb54a"/>
<circle cx="101.35" cy="318.61" r="0.95" fill="#3cb54a"/>
<circle cx="103.42" cy="318.75" r="0.95" fill="#3cb54a"/>
<circle cx="97.66" cy="320.04" r="0.95" fill="#3cb54a"/>
<circle cx="99.05" cy="320.22" r="0.95" fill="#3cb54a"/>
<circle cx="100.88" cy="320.35" r="0.95" fill="#3cb54a"/>
<circle cx="102.46" cy="320.11" r="0.95" fill="#3cb54a"/>
<circle cx="100.13" cy="321.79" r="0.95" fill="#3cb54a"/>
<circle cx="100.52" cy="323.70" r="0.95" fill="#3cb54a"/>
<circle cx="111.70" cy="274.00" r="0.95" fill="#5b1f78"/>
<circle cx="111.35" cy="277.10" r="0.95" fill="#5b1f78"/>
<circle cx="111.41" cy="281.16" r="0.95" fill="#5b1f78"/>
<circle cx="111.69" cy="282.98" r="0.95" fill="#5b1f78"/>
<circle cx="111.42" cy="285.63" r="0.95" fill="#5b1f78"/>
<circle cx="111.59" cy="287.41" r="0.95" fill="#5b1f78"/>
<circle cx="111.37" cy="289.92" r="0.95" fill="#5b1f78"/>
<circle cx="110.12" cy="291.79" r="0.95" fill="#5b1f78"/>
<circle cx="111.82" cy="291.90" r="0.95" fill="#5b1f78"/>
<circle cx="110.92" cy="293.45" r="0.95" fill="#5b1f78"/>
<circle cx="112.59" cy="293.84" r="0.95" fill="#5b1f78"/>
<circle cx="110.09" cy="295.38" r="0.95" fill="#5b1f78"/>
<circle cx="111.74" cy="295.03" r="0.95" fill="#5b1f78"/>
<circle cx="110.48" cy="296.79" r="0.95" fill="#5b1f78"/>
<circle cx="111.91" cy="296.47" r="0.95" fill="#5b1f78"/>
<circle cx="113.68" cy="296.41" r="0.95" fill="#5b1f78"/>
<circle cx="110.26" cy="297.92" r="0.95" fill="#5b1f78"/>
<circle cx="111.91" cy="298.37" r="0.95" fill="#5b1f78"/>
<circle cx="111.13" cy="299.83" r="0.95" fill="#5b1f78"/>
<circle cx="112.75" cy="299.54" r="0.95" fill="#5b1f78"/>
<circle cx="110.27" cy="301.44" r="0.95" fill="#5b1f78"/>
<circle cx="112.22" cy="301.26" r="0.95" fill="#5b1f78"/>
<circle cx="111.27" cy="302.80" r="0.95" fill="#5b1f78"/>
<circle cx="112.61" cy="302.98" r="0.95" fill="#5b1f78"/>
<circle cx="109.66" cy="304.52" r="0.95" fill="#5b1f78"/>
<circle cx="111.36" cy="304.51" r="0.95" fill="#5b1f78"/>
<circle cx="112.88" cy="304.37" r="0.95" fill="#5b1f78"/>
<circle cx="109.58" cy="305.76" r="0.95" fill="#5b1f78"/>
<circle cx="111.10" cy="306.17" r="0.95" fill="#5b1f78"/>
<circle cx="112.93" cy="306.08" r="0.95" fill="#5b1f78"/>
<circle cx="110.25" cy="307.42" r="0.95" fill="#5b1f78"/>
<circle cx="112.02" cy="307.40" r="0.95" fill="#5b1f78"/>
<circle cx="113.71" cy="307.71" r="0.95" fill="#5b1f78"/>
<circle cx="109.59" cy="309.07" r="0.95" fill="#5b1f78"/>
<circle cx="111.08" cy="308.89" r="0.95" fill="#5b1f78"/>
<circle cx="113.08" cy="308.62" r="0.95" fill="#5b1f78"/>
<circle cx="109.27" cy="310.52" r="0.95" fill="#5b1f78"/>
<circle cx="111.39" cy="310.36" r="0.95" fill="#5b1f78"/>
<circle cx="112.54" cy="310.39" r="0.95" fill="#5b1f78"/>
<circle cx="114.45" cy="310.48" r="0.95" fill="#5b1f78"/>
<circle cx="108.76" cy="312.00" r="0.95" fill="#5b1f78"/>
<circle cx="110.34" cy="311.75" r="0.95" fill="#5b1f78"/>
<circle cx="112.24" cy="311.63" r="0.95" fill="#5b1f78"/>
<circle cx="113.74" cy="311.74" r="0.95" fill="#5b1f78"/>
<circle cx="109.25" cy="313.54" r="0.95" fill="#5b1f78"/>
<circle cx="111.04" cy="312.98" r="0.95" fill="#5b1f78"/>
<circle cx="112.64" cy="313.19" r="0.95" fill="#5b1f78"/>
<circle cx="114.13" cy="313.20" r="0.95" fill="#5b1f78"/>
<circle cx="108.79" cy="314.61" r="0.95" fill="#5b1f78"/>
<circle cx="110.18" cy="314.53" r="0.95" fill="#5b1f78"/>
<circle cx="112.12" cy="314.96" r="0.95" fill="#5b1f78"/>
<circle cx="113.64" cy="314.53" r="0.95" fill="#5b1f78"/>
<circle cx="110.26" cy="316.83" r="0.95" fill="#5b1f78"/>
<circle cx="111.75" cy="317.17" r="0.95" fill="#5b1f78"/>
<circle cx="111.21" cy="318.58" r="0.95" fill="#5b1f78"/>
<circle cx="112.81" cy="318.44" r="0.95" fill="#5b1f78"/>
<circle cx="110.24" cy="320.28" r="0.95" fill="#5b1f78"/>
<circle cx="112.17" cy="320.39" r="0.95" fill="#5b1f78"/>
<circle cx="122.78" cy="239.40" r="0.95" fill="#f7931e"/>
<circle cx="122.68" cy="241.60" r="0.95" fill="#f7931e"/>
<circle cx="122.83" cy="245.70" r="0.95" fill="#f7931e"/>
<circle cx="122.58" cy="254.60" r="0.95" fill="#f7931e"/>
<circle cx="123.00" cy="262.50" r="0.95" fill="#f7931e"/>
<circle cx="122.71" cy="266.40" r="0.95" fill="#f7931e"/>
<circle cx="123.01" cy="271.30" r="0.95" fill="#f7931e"/>
<circle cx="122.66" cy="275.60" r="0.95" fill="#f7931e"/>
<circle cx="122.73" cy="280.00" r="0.95" fill="#f7931e"/>
<circle cx="122.66" cy="285.61" r="0.95" fill="#f7931e"/>
<circle cx="122.99" cy="287.57" r="0.95" fill="#f7931e"/>
<circle cx="122.62" cy="289.59" r="0.95" fill="#f7931e"/>
<circle cx="122.96" cy="291.60" r="0.95" fill="#f7931e"/>
<circle cx="122.81" cy="293.61" r="0.95" fill="#f7931e"/>
<circle cx="123.02" cy="295.54" r="0.95" fill="#f7931e"/>
<circle cx="121.36" cy="297.40" r="0.95" fill="#f7931e"/>
<circle cx="123.30" cy="296.91" r="0.95" fill="#f7931e"/>
<circle cx="121.02" cy="299.09" r="0.95" fill="#f7931e"/>
<circle cx="122.25" cy="298.76" r="0.95" fill="#f7931e"/>
<circle cx="123.84" cy="298.84" r="0.95" fill="#f7931e"/>
<circle cx="120.63" cy="300.19" r="0.95" fill="#f7931e"/>
<circle cx="122.62" cy="300.58" r="0.95" fill="#f7931e"/>
<circle cx="123.83" cy="300.63" r="0.95" fill="#f7931e"/>
<circle cx="125.74" cy="300.57" r="0.95" fill="#f7931e"/>
<circle cx="120.16" cy="301.97" r="0.95" fill="#f7931e"/>
<circle cx="121.78" cy="301.62" r="0.95" fill="#f7931e"/>
<circle cx="123.34" cy="301.82" r="0.95" fill="#f7931e"/>
<circle cx="125.02" cy="301.76" r="0.95" fill="#f7931e"/>
<circle cx="119.93" cy="303.06" r="0.95" fill="#f7931e"/>
<circle cx="121.39" cy="302.98" r="0.95" fill="#f7931e"/>
<circle cx="123.20" cy="302.94" r="0.95" fill="#f7931e"/>
<circle cx="124.83" cy="302.99" r="0.95" fill="#f7931e"/>
<circle cx="126.49" cy="303.20" r="0.95" fill="#f7931e"/>
<circle cx="120.14" cy="304.30" r="0.95" fill="#f7931e"/>
<circle cx="121.78" cy="304.58" r="0.95" fill="#f7931e"/>
<circle cx="123.26" cy="304.70" r="0.95" fill="#f7931e"/>
<circle cx="125.08" cy="304.52" r="0.95" fill="#f7931e"/>
<circle cx="121.00" cy="305.75" r="0.95" fill="#f7931e"/>
<circle cx="122.46" cy="306.08" r="0.95" fill="#f7931e"/>
<circle cx="123.74" cy="306.07" r="0.95" fill="#f7931e"/>
<circle cx="125.78" cy="306.26" r="0.95" fill="#f7931e"/>
<circle cx="120.21" cy="307.41" r="0.95" fill="#f7931e"/>
<circle cx="121.57" cy="307.64" r="0.95" fill="#f7931e"/>
<circle cx="122.95" cy="307.53" r="0.95" fill="#f7931e"/>
<circle cx="124.95" cy="307.30" r="0.95" fill="#f7931e"/>
<circle cx="119.82" cy="308.78" r="0.95" fill="#f7931e"/>
<circle cx="121.57" cy="308.96" r="0.95" fill="#f7931e"/>
<circle cx="123.03" cy="308.76" r="0.95" fill="#f7931e"/>
<circle cx="124.80" cy="308.83" r="0.95" fill="#f7931e"/>
<circle cx="126.70" cy="308.68" r="0.95" fill="#f7931e"/>
<circle cx="119.87" cy="310.20" r="0.95" fill="#f7931e"/>
<circle cx="121.44" cy="310.20" r="0.95" fill="#f7931e"/>
<circle cx="123.51" cy="310.29" r="0.95" fill="#f7931e"/>
<circle cx="125.05" cy="310.10" r="0.95" fill="#f7931e"/>
<circle cx="121.45" cy="312.05" r="0.95" fill="#f7931e"/>
<circle cx="123.31" cy="312.17" r="0.95" fill="#f7931e"/>
<circle cx="122.51" cy="313.68" r="0.95" fill="#f7931e"/>
<circle cx="124.05" cy="313.18" r="0.95" fill="#f7931e"/>
<circle cx="121.28" cy="314.71" r="0.95" fill="#f7931e"/>
<circle cx="123.48" cy="314.97" r="0.95" fill="#f7931e"/>
<circle cx="122.55" cy="316.60" r="0.95" fill="#f7931e"/>
<circle cx="124.09" cy="316.42" r="0.95" fill="#f7931e"/>
<circle cx="121.69" cy="317.86" r="0.95" fill="#f7931e"/>
<circle cx="123.33" cy="317.63" r="0.95" fill="#f7931e"/>
<circle cx="122.35" cy="319.41" r="0.95" fill="#f7931e"/>
<circle cx="123.79" cy="319.06" r="0.95" fill="#f7931e"/>
<circle cx="122.76" cy="320.95" r="0.95" fill="#f7931e"/>
<circle cx="122.30" cy="322.34" r="0.95" fill="#f7931e"/>
<circle cx="124.20" cy="322.19" r="0.95" fill="#f7931e"/>
<circle cx="133.90" cy="250.20" r="0.95" fill="#0b6b50"/>
<circle cx="133.93" cy="253.00" r="0.95" fill="#0b6b50"/>
<circle cx="134.00" cy="255.00" r="0.95" fill="#0b6b50"/>
<circle cx="133.94" cy="257.70" r="0.95" fill="#0b6b50"/>
<circle cx="134.01" cy="262.50" r="0.95" fill="#0b6b50"/>
<circle cx="134.06" cy="270.43" r="0.95" fill="#0b6b50"/>
<circle cx="134.03" cy="271.97" r="0.95" fill="#0b6b50"/>
<circle cx="132.87" cy="273.95" r="0.95" fill="#0b6b50"/>
<circle cx="134.44" cy="273.41" r="0.95" fill="#0b6b50"/>
<circle cx="134.20" cy="275.46" r="0.95" fill="#0b6b50"/>
<circle cx="132.81" cy="276.65" r="0.95" fill="#0b6b50"/>
<circle cx="134.24" cy="276.79" r="0.95" fill="#0b6b50"/>
<circle cx="134.07" cy="277.91" r="0.95" fill="#0b6b50"/>
<circle cx="133.99" cy="279.47" r="0.95" fill="#0b6b50"/>
<circle cx="133.38" cy="281.42" r="0.95" fill="#0b6b50"/>
<circle cx="135.05" cy="280.91" r="0.95" fill="#0b6b50"/>
<circle cx="132.67" cy="282.84" r="0.95" fill="#0b6b50"/>
<circle cx="134.29" cy="282.43" r="0.95" fill="#0b6b50"/>
<circle cx="133.75" cy="284.41" r="0.95" fill="#0b6b50"/>
<circle cx="135.41" cy="283.95" r="0.95" fill="#0b6b50"/>
<circle cx="132.95" cy="285.68" r="0.95" fill="#0b6b50"/>
<circle cx="134.73" cy="285.55" r="0.95" fill="#0b6b50"/>
<circle cx="132.93" cy="286.91" r="0.95" fill="#0b6b50"/>
<circle cx="134.16" cy="287.29" r="0.95" fill="#0b6b50"/>
<circle cx="136.29" cy="286.95" r="0.95" fill="#0b6b50"/>
<circle cx="132.96" cy="288.50" r="0.95" fill="#0b6b50"/>
<circle cx="134.69" cy="288.69" r="0.95" fill="#0b6b50"/>
<circle cx="131.92" cy="290.54" r="0.95" fill="#0b6b50"/>
<circle cx="133.61" cy="290.61" r="0.95" fill="#0b6b50"/>
<circle cx="135.09" cy="290.68" r="0.95" fill="#0b6b50"/>
<circle cx="132.89" cy="292.03" r="0.95" fill="#0b6b50"/>
<circle cx="134.40" cy="291.88" r="0.95" fill="#0b6b50"/>
<circle cx="136.27" cy="292.22" r="0.95" fill="#0b6b50"/>
<circle cx="131.22" cy="293.28" r="0.95" fill="#0b6b50"/>
<circle cx="132.56" cy="293.68" r="0.95" fill="#0b6b50"/>
<circle cx="134.60" cy="293.60" r="0.95" fill="#0b6b50"/>
<circle cx="136.02" cy="293.46" r="0.95" fill="#0b6b50"/>
<circle cx="132.17" cy="294.91" r="0.95" fill="#0b6b50"/>
<circle cx="133.51" cy="294.81" r="0.95" fill="#0b6b50"/>
<circle cx="135.51" cy="294.78" r="0.95" fill="#0b6b50"/>
<circle cx="137.04" cy="294.91" r="0.95" fill="#0b6b50"/>
<circle cx="131.36" cy="296.17" r="0.95" fill="#0b6b50"/>
<circle cx="132.53" cy="296.16" r="0.95" fill="#0b6b50"/>
<circle cx="134.43" cy="296.35" r="0.95" fill="#0b6b50"/>
<circle cx="136.31" cy="296.53" r="0.95" fill="#0b6b50"/>
<circle cx="133.00" cy="297.94" r="0.95" fill="#0b6b50"/>
<circle cx="134.67" cy="297.79" r="0.95" fill="#0b6b50"/>
<circle cx="135.96" cy="297.96" r="0.95" fill="#0b6b50"/>
<circle cx="131.29" cy="299.45" r="0.95" fill="#0b6b50"/>
<circle cx="132.73" cy="298.95" r="0.95" fill="#0b6b50"/>
<circle cx="134.51" cy="299.38" r="0.95" fill="#0b6b50"/>
<circle cx="135.95" cy="299.35" r="0.95" fill="#0b6b50"/>
<circle cx="131.82" cy="300.71" r="0.95" fill="#0b6b50"/>
<circle cx="133.73" cy="300.63" r="0.95" fill="#0b6b50"/>
<circle cx="135.10" cy="300.50" r="0.95" fill="#0b6b50"/>
<circle cx="137.08" cy="300.82" r="0.95" fill="#0b6b50"/>
<circle cx="131.75" cy="302.28" r="0.95" fill="#0b6b50"/>
<circle cx="133.81" cy="301.94" r="0.95" fill="#0b6b50"/>
<circle cx="135.35" cy="302.34" r="0.95" fill="#0b6b50"/>
<circle cx="131.99" cy="303.54" r="0.95" fill="#0b6b50"/>
<circle cx="133.68" cy="303.36" r="0.95" fill="#0b6b50"/>
<circle cx="135.09" cy="303.36" r="0.95" fill="#0b6b50"/>
<circle cx="137.05" cy="303.47" r="0.95" fill="#0b6b50"/>
<circle cx="131.12" cy="305.01" r="0.95" fill="#0b6b50"/>
<circle cx="132.61" cy="304.73" r="0.95" fill="#0b6b50"/>
<circle cx="134.77" cy="304.92" r="0.95" fill="#0b6b50"/>
<circle cx="135.89" cy="305.08" r="0.95" fill="#0b6b50"/>
<circle cx="131.77" cy="306.51" r="0.95" fill="#0b6b50"/>
<circle cx="133.53" cy="306.46" r="0.95" fill="#0b6b50"/>
<circle cx="134.99" cy="306.17" r="0.95" fill="#0b6b50"/>
<circle cx="137.22" cy="306.67" r="0.95" fill="#0b6b50"/>
<circle cx="132.04" cy="307.76" r="0.95" fill="#0b6b50"/>
<circle cx="133.82" cy="307.86" r="0.95" fill="#0b6b50"/>
<circle cx="135.57" cy="308.06" r="0.95" fill="#0b6b50"/>
<circle cx="132.25" cy="309.20" r="0.95" fill="#0b6b50"/>
<circle cx="133.35" cy="309.17" r="0.95" fill="#0b6b50"/>
<circle cx="135.08" cy="309.10" r="0.95" fill="#0b6b50"/>
<circle cx="136.66" cy="309.38" r="0.95" fill="#0b6b50"/>
<circle cx="131.15" cy="311.07" r="0.95" fill="#0b6b50"/>
<circle cx="133.07" cy="310.54" r="0.95" fill="#0b6b50"/>
<circle cx="134.53" cy="310.74" r="0.95" fill="#0b6b50"/>
<circle cx="135.90" cy="311.08" r="0.95" fill="#0b6b50"/>
<circle cx="132.84" cy="312.33" r="0.95" fill="#0b6b50"/>
<circle cx="134.72" cy="312.35" r="0.95" fill="#0b6b50"/>
<circle cx="136.04" cy="312.22" r="0.95" fill="#0b6b50"/>
<circle cx="133.83" cy="314.28" r="0.95" fill="#0b6b50"/>
<circle cx="134.32" cy="315.43" r="0.95" fill="#0b6b50"/>
<circle cx="133.79" cy="317.05" r="0.95" fill="#0b6b50"/>
<circle cx="134.13" cy="319.04" r="0.95" fill="#0b6b50"/>
<circle cx="134.05" cy="320.60" r="0.95" fill="#0b6b50"/>
<circle cx="134.03" cy="322.17" r="0.95" fill="#0b6b50"/>
<circle cx="145.43" cy="229.80" r="0.95" fill="#8a7fc8"/>
<circle cx="145.39" cy="246.10" r="0.95" fill="#8a7fc8"/>
<circle cx="145.59" cy="253.60" r="0.95" fill="#8a7fc8"/>
<circle cx="145.03" cy="255.00" r="0.95" fill="#8a7fc8"/>
<circle cx="144.90" cy="257.70" r="0.95" fill="#8a7fc8"/>
<circle cx="146.50" cy="257.70" r="0.95" fill="#8a7fc8"/>
<circle cx="145.09" cy="260.50" r="0.95" fill="#8a7fc8"/>
<circle cx="145.45" cy="262.50" r="0.95" fill="#8a7fc8"/>
<circle cx="145.56" cy="265.20" r="0.95" fill="#8a7fc8"/>
<circle cx="145.41" cy="268.00" r="0.95" fill="#8a7fc8"/>
<circle cx="145.18" cy="323.20" r="0.95" fill="#8a7fc8"/>
<circle cx="145.26" cy="269.06" r="0.95" fill="#8a7fc8"/>
<circle cx="145.35" cy="270.57" r="0.95" fill="#8a7fc8"/>
<circle cx="145.08" cy="272.14" r="0.95" fill="#8a7fc8"/>
<circle cx="145.47" cy="273.51" r="0.95" fill="#8a7fc8"/>
<circle cx="143.89" cy="275.02" r="0.95" fill="#8a7fc8"/>
<circle cx="145.98" cy="275.13" r="0.95" fill="#8a7fc8"/>
<circle cx="145.10" cy="277.03" r="0.95" fill="#8a7fc8"/>
<circle cx="146.31" cy="276.77" r="0.95" fill="#8a7fc8"/>
<circle cx="144.33" cy="278.71" r="0.95" fill="#8a7fc8"/>
<circle cx="145.80" cy="278.47" r="0.95" fill="#8a7fc8"/>
<circle cx="144.24" cy="279.94" r="0.95" fill="#8a7fc8"/>
<circle cx="145.78" cy="279.74" r="0.95" fill="#8a7fc8"/>
<circle cx="147.18" cy="279.68" r="0.95" fill="#8a7fc8"/>
<circle cx="143.28" cy="281.19" r="0.95" fill="#8a7fc8"/>
<circle cx="145.12" cy="281.26" r="0.95" fill="#8a7fc8"/>
<circle cx="146.50" cy="281.19" r="0.95" fill="#8a7fc8"/>
<circle cx="144.25" cy="282.75" r="0.95" fill="#8a7fc8"/>
<circle cx="145.50" cy="282.84" r="0.95" fill="#8a7fc8"/>
<circle cx="147.24" cy="283.09" r="0.95" fill="#8a7fc8"/>
<circle cx="143.54" cy="284.03" r="0.95" fill="#8a7fc8"/>
<circle cx="145.14" cy="284.40" r="0.95" fill="#8a7fc8"/>
<circle cx="146.38" cy="284.29" r="0.95" fill="#8a7fc8"/>
<circle cx="143.90" cy="285.57" r="0.95" fill="#8a7fc8"/>
<circle cx="145.62" cy="286.04" r="0.95" fill="#8a7fc8"/>
<circle cx="147.65" cy="286.01" r="0.95" fill="#8a7fc8"/>
<circle cx="143.12" cy="287.44" r="0.95" fill="#8a7fc8"/>
<circle cx="144.63" cy="287.34" r="0.95" fill="#8a7fc8"/>
<circle cx="146.43" cy="287.49" r="0.95" fill="#8a7fc8"/>
<circle cx="145.06" cy="288.55" r="0.95" fill="#8a7fc8"/>
<circle cx="146.31" cy="288.35" r="0.95" fill="#8a7fc8"/>
<circle cx="142.44" cy="289.91" r="0.95" fill="#8a7fc8"/>
<circle cx="144.04" cy="290.35" r="0.95" fill="#8a7fc8"/>
<circle cx="145.56" cy="290.14" r="0.95" fill="#8a7fc8"/>
<circle cx="147.16" cy="289.91" r="0.95" fill="#8a7fc8"/>
<circle cx="143.35" cy="291.37" r="0.95" fill="#8a7fc8"/>
<circle cx="144.62" cy="291.30" r="0.95" fill="#8a7fc8"/>
<circle cx="146.59" cy="291.55" r="0.95" fill="#8a7fc8"/>
<circle cx="148.04" cy="291.37" r="0.95" fill="#8a7fc8"/>
<circle cx="143.37" cy="293.19" r="0.95" fill="#8a7fc8"/>
<circle cx="144.95" cy="292.82" r="0.95" fill="#8a7fc8"/>
<circle cx="146.29" cy="293.14" r="0.95" fill="#8a7fc8"/>
<circle cx="144.18" cy="294.18" r="0.95" fill="#8a7fc8"/>
<circle cx="145.89" cy="294.35" r="0.95" fill="#8a7fc8"/>
<circle cx="147.56" cy="294.67" r="0.95" fill="#8a7fc8"/>
<circle cx="142.96" cy="296.15" r="0.95" fill="#8a7fc8"/>
<circle cx="144.89" cy="296.12" r="0.95" fill="#8a7fc8"/>
<circle cx="146.41" cy="295.71" r="0.95" fill="#8a7fc8"/>
<circle cx="143.15" cy="297.15" r="0.95" fill="#8a7fc8"/>
<circle cx="144.80" cy="297.41" r="0.95" fill="#8a7fc8"/>
<circle cx="146.23" cy="297.36" r="0.95" fill="#8a7fc8"/>
<circle cx="148.14" cy="297.36" r="0.95" fill="#8a7fc8"/>
<circle cx="143.38" cy="298.99" r="0.95" fill="#8a7fc8"/>
<circle cx="145.12" cy="298.69" r="0.95" fill="#8a7fc8"/>
<circle cx="146.68" cy="298.73" r="0.95" fill="#8a7fc8"/>
<circle cx="142.96" cy="300.47" r="0.95" fill="#8a7fc8"/>
<circle cx="145.15" cy="300.25" r="0.95" fill="#8a7fc8"/>
<circle cx="146.53" cy="300.27" r="0.95" fill="#8a7fc8"/>
<circle cx="148.20" cy="299.96" r="0.95" fill="#8a7fc8"/>
<circle cx="142.26" cy="301.51" r="0.95" fill="#8a7fc8"/>
<circle cx="143.84" cy="301.55" r="0.95" fill="#8a7fc8"/>
<circle cx="145.92" cy="301.42" r="0.95" fill="#8a7fc8"/>
<circle cx="147.13" cy="301.82" r="0.95" fill="#8a7fc8"/>
<circle cx="143.76" cy="303.21" r="0.95" fill="#8a7fc8"/>
<circle cx="145.75" cy="303.16" r="0.95" fill="#8a7fc8"/>
<circle cx="147.47" cy="302.91" r="0.95" fill="#8a7fc8"/>
<circle cx="142.56" cy="304.33" r="0.95" fill="#8a7fc8"/>
<circle cx="143.85" cy="304.60" r="0.95" fill="#8a7fc8"/>
<circle cx="145.73" cy="304.47" r="0.95" fill="#8a7fc8"/>
<circle cx="147.15" cy="304.54" r="0.95" fill="#8a7fc8"/>
<circle cx="144.11" cy="306.27" r="0.95" fill="#8a7fc8"/>
<circle cx="145.49" cy="306.09" r="0.95" fill="#8a7fc8"/>
<circle cx="147.50" cy="305.85" r="0.95" fill="#8a7fc8"/>
<circle cx="142.69" cy="307.43" r="0.95" fill="#8a7fc8"/>
<circle cx="144.03" cy="307.70" r="0.95" fill="#8a7fc8"/>
<circle cx="145.74" cy="307.44" r="0.95" fill="#8a7fc8"/>
<circle cx="147.64" cy="307.67" r="0.95" fill="#8a7fc8"/>
<circle cx="143.89" cy="308.85" r="0.95" fill="#8a7fc8"/>
<circle cx="145.66" cy="309.24" r="0.95" fill="#8a7fc8"/>
<circle cx="147.53" cy="309.20" r="0.95" fill="#8a7fc8"/>
<circle cx="142.63" cy="310.13" r="0.95" fill="#8a7fc8"/>
<circle cx="144.09" cy="310.67" r="0.95" fill="#8a7fc8"/>
<circle cx="145.99" cy="310.25" r="0.95" fill="#8a7fc8"/>
<circle cx="147.33" cy="310.48" r="0.95" fill="#8a7fc8"/>
<circle cx="145.14" cy="312.52" r="0.95" fill="#8a7fc8"/>
<circle cx="145.29" cy="313.96" r="0.95" fill="#8a7fc8"/>
<circle cx="145.18" cy="315.21" r="0.95" fill="#8a7fc8"/>
<circle cx="156.33" cy="230.90" r="0.95" fill="#2c3e50"/>
<circle cx="156.83" cy="245.70" r="0.95" fill="#2c3e50"/>
<circle cx="156.72" cy="319.90" r="0.95" fill="#2c3e50"/>
<circle cx="156.56" cy="259.08" r="0.95" fill="#2c3e50"/>
<circle cx="156.76" cy="260.93" r="0.95" fill="#2c3e50"/>
<circle cx="156.55" cy="262.12" r="0.95" fill="#2c3e50"/>
<circle cx="156.71" cy="263.96" r="0.95" fill="#2c3e50"/>
<circle cx="156.48" cy="265.66" r="0.95" fill="#2c3e50"/>
<circle cx="156.68" cy="267.75" r="0.95" fill="#2c3e50"/>
<circle cx="156.47" cy="269.05" r="0.95" fill="#2c3e50"/>
<circle cx="156.68" cy="270.86" r="0.95" fill="#2c3e50"/>
<circle cx="155.20" cy="271.88" r="0.95" fill="#2c3e50"/>
<circle cx="157.06" cy="271.77" r="0.95" fill="#2c3e50"/>
<circle cx="156.40" cy="273.56" r="0.95" fill="#2c3e50"/>
<circle cx="157.64" cy="273.53" r="0.95" fill="#2c3e50"/>
<circle cx="155.11" cy="274.87" r="0.95" fill="#2c3e50"/>
<circle cx="156.75" cy="274.98" r="0.95" fill="#2c3e50"/>
<circle cx="156.00" cy="276.50" r="0.95" fill="#2c3e50"/>
<circle cx="157.53" cy="276.68" r="0.95" fill="#2c3e50"/>
<circle cx="155.39" cy="278.24" r="0.95" fill="#2c3e50"/>
<circle cx="157.07" cy="278.02" r="0.95" fill="#2c3e50"/>
<circle cx="156.10" cy="279.78" r="0.95" fill="#2c3e50"/>
<circle cx="157.84" cy="279.73" r="0.95" fill="#2c3e50"/>
<circle cx="155.17" cy="281.13" r="0.95" fill="#2c3e50"/>
<circle cx="156.98" cy="281.23" r="0.95" fill="#2c3e50"/>
<circle cx="155.83" cy="282.76" r="0.95" fill="#2c3e50"/>
<circle cx="157.99" cy="282.69" r="0.95" fill="#2c3e50"/>
<circle cx="155.32" cy="284.27" r="0.95" fill="#2c3e50"/>
<circle cx="157.27" cy="284.28" r="0.95" fill="#2c3e50"/>
<circle cx="155.10" cy="285.69" r="0.95" fill="#2c3e50"/>
<circle cx="157.17" cy="285.91" r="0.95" fill="#2c3e50"/>
<circle cx="158.34" cy="285.88" r="0.95" fill="#2c3e50"/>
<circle cx="155.47" cy="287.27" r="0.95" fill="#2c3e50"/>
<circle cx="156.81" cy="287.78" r="0.95" fill="#2c3e50"/>
<circle cx="155.09" cy="288.95" r="0.95" fill="#2c3e50"/>
<circle cx="156.86" cy="289.16" r="0.95" fill="#2c3e50"/>
<circle cx="158.67" cy="289.26" r="0.95" fill="#2c3e50"/>
<circle cx="154.51" cy="290.64" r="0.95" fill="#2c3e50"/>
<circle cx="156.30" cy="290.66" r="0.95" fill="#2c3e50"/>
<circle cx="157.79" cy="290.67" r="0.95" fill="#2c3e50"/>
<circle cx="155.55" cy="291.78" r="0.95" fill="#2c3e50"/>
<circle cx="157.17" cy="291.70" r="0.95" fill="#2c3e50"/>
<circle cx="158.76" cy="292.05" r="0.95" fill="#2c3e50"/>
<circle cx="154.78" cy="293.54" r="0.95" fill="#2c3e50"/>
<circle cx="156.10" cy="293.67" r="0.95" fill="#2c3e50"/>
<circle cx="158.02" cy="293.56" r="0.95" fill="#2c3e50"/>
<circle cx="155.27" cy="294.97" r="0.95" fill="#2c3e50"/>
<circle cx="157.08" cy="294.88" r="0.95" fill="#2c3e50"/>
<circle cx="158.53" cy="295.03" r="0.95" fill="#2c3e50"/>
<circle cx="154.39" cy="296.67" r="0.95" fill="#2c3e50"/>
<circle cx="156.36" cy="296.50" r="0.95" fill="#2c3e50"/>
<circle cx="157.77" cy="296.31" r="0.95" fill="#2c3e50"/>
<circle cx="155.09" cy="298.05" r="0.95" fill="#2c3e50"/>
<circle cx="157.00" cy="297.75" r="0.95" fill="#2c3e50"/>
<circle cx="158.85" cy="297.89" r="0.95" fill="#2c3e50"/>
<circle cx="153.88" cy="299.78" r="0.95" fill="#2c3e50"/>
<circle cx="155.15" cy="299.46" r="0.95" fill="#2c3e50"/>
<circle cx="157.22" cy="299.21" r="0.95" fill="#2c3e50"/>
<circle cx="158.35" cy="299.54" r="0.95" fill="#2c3e50"/>
<circle cx="155.55" cy="301.16" r="0.95" fill="#2c3e50"/>
<circle cx="156.97" cy="301.30" r="0.95" fill="#2c3e50"/>
<circle cx="158.61" cy="301.01" r="0.95" fill="#2c3e50"/>
<circle cx="153.61" cy="302.41" r="0.95" fill="#2c3e50"/>
<circle cx="155.38" cy="302.41" r="0.95" fill="#2c3e50"/>
<circle cx="157.24" cy="302.61" r="0.95" fill="#2c3e50"/>
<circle cx="158.64" cy="302.26" r="0.95" fill="#2c3e50"/>
<circle cx="155.24" cy="304.04" r="0.95" fill="#2c3e50"/>
<circle cx="156.99" cy="304.23" r="0.95" fill="#2c3e50"/>
<circle cx="158.88" cy="303.99" r="0.95" fill="#2c3e50"/>
<circle cx="154.57" cy="305.80" r="0.95" fill="#2c3e50"/>
<circle cx="156.06" cy="305.52" r="0.95" fill="#2c3e50"/>
<circle cx="157.99" cy="305.30" r="0.95" fill="#2c3e50"/>
<circle cx="155.59" cy="307.20" r="0.95" fill="#2c3e50"/>
<circle cx="156.96" cy="306.77" r="0.95" fill="#2c3e50"/>
<circle cx="158.84" cy="307.11" r="0.95" fill="#2c3e50"/>
<circle cx="153.97" cy="308.73" r="0.95" fill="#2c3e50"/>
<circle cx="155.28" cy="308.29" r="0.95" fill="#2c3e50"/>
<circle cx="156.85" cy="308.51" r="0.95" fill="#2c3e50"/>
<circle cx="158.63" cy="308.31" r="0.95" fill="#2c3e50"/>
<circle cx="155.38" cy="310.06" r="0.95" fill="#2c3e50"/>
<circle cx="156.86" cy="310.30" r="0.95" fill="#2c3e50"/>
<circle cx="158.68" cy="309.73" r="0.95" fill="#2c3e50"/>
<circle cx="167.75" cy="245.70" r="0.95" fill="#1ea7e8"/>
<circle cx="167.97" cy="255.70" r="0.95" fill="#1ea7e8"/>
<circle cx="167.68" cy="259.10" r="0.95" fill="#1ea7e8"/>
<circle cx="165.50" cy="261.10" r="0.95" fill="#1ea7e8"/>
<circle cx="171.70" cy="261.10" r="0.95" fill="#1ea7e8"/>
<circle cx="167.91" cy="263.20" r="0.95" fill="#1ea7e8"/>
<circle cx="167.50" cy="268.60" r="0.95" fill="#1ea7e8"/>
<circle cx="165.50" cy="272.00" r="0.95" fill="#1ea7e8"/>
<circle cx="168.90" cy="272.00" r="0.95" fill="#1ea7e8"/>
<circle cx="167.68" cy="273.40" r="0.95" fill="#1ea7e8"/>
<circle cx="168.01" cy="276.80" r="0.95" fill="#1ea7e8"/>
<circle cx="171.70" cy="281.00" r="0.95" fill="#1ea7e8"/>
<circle cx="167.85" cy="285.00" r="0.95" fill="#1ea7e8"/>
<circle cx="167.90" cy="289.30" r="0.95" fill="#1ea7e8"/>
<circle cx="165.50" cy="293.00" r="0.95" fill="#1ea7e8"/>
<circle cx="171.00" cy="293.00" r="0.95" fill="#1ea7e8"/>
<circle cx="167.62" cy="296.00" r="0.95" fill="#1ea7e8"/>
<circle cx="171.00" cy="298.70" r="0.95" fill="#1ea7e8"/>
<circle cx="167.80" cy="300.30" r="0.95" fill="#1ea7e8"/>
<circle cx="167.83" cy="303.40" r="0.95" fill="#1ea7e8"/>
<circle cx="167.66" cy="306.40" r="0.95" fill="#1ea7e8"/>
<line x1="165.1" y1="282.3" x2="171.7" y2="282.3" stroke="#4a9a7a" stroke-width="1.0"/>
<line x1="153.8" y1="288.7" x2="161.2" y2="288.7" stroke="#2c3e50" stroke-width="1.0"/>
<line x1="70.0" y1="215.9" x2="70.0" y2="327.0" stroke="#3a3a3a" stroke-width="1.2"/>
<line x1="69.4" y1="326.4" x2="176.3" y2="326.4" stroke="#3a3a3a" stroke-width="1.2"/>
<line x1="67.0" y1="216.39" x2="70.0" y2="216.39" stroke="#3a3a3a" stroke-width="1"/>
<text x="64.5" y="219.39" font-size="8.6" font-weight="normal" fill="#666" text-anchor="end" textLength="12.8" lengthAdjust="spacingAndGlyphs">300</text>
<line x1="67.0" y1="253.05999999999997" x2="70.0" y2="253.05999999999997" stroke="#3a3a3a" stroke-width="1"/>
<text x="64.5" y="256.05999999999995" font-size="8.6" font-weight="normal" fill="#666" text-anchor="end" textLength="12.8" lengthAdjust="spacingAndGlyphs">200</text>
<line x1="67.0" y1="289.72999999999996" x2="70.0" y2="289.72999999999996" stroke="#3a3a3a" stroke-width="1"/>
<text x="64.5" y="292.72999999999996" font-size="8.6" font-weight="normal" fill="#666" text-anchor="end" textLength="12.8" lengthAdjust="spacingAndGlyphs">100</text>
<line x1="67.0" y1="326.4" x2="70.0" y2="326.4" stroke="#3a3a3a" stroke-width="1"/>
<text x="64.8" y="329.4" font-size="8.6" font-weight="normal" fill="#666" text-anchor="end" textLength="4.6" lengthAdjust="spacingAndGlyphs">0</text>
<line x1="67.0" y1="311.73199999999997" x2="70.0" y2="311.73199999999997" stroke="#3a3a3a" stroke-width="1"/>
<line x1="67.0" y1="319.066" x2="70.0" y2="319.066" stroke="#3a3a3a" stroke-width="1"/>
<text x="66.8" y="314.63199999999995" font-size="9" font-weight="normal" fill="#d0415a" text-anchor="end" textLength="9.5" lengthAdjust="spacingAndGlyphs">40</text>
<text x="66.8" y="321.96599999999995" font-size="9" font-weight="normal" fill="#3f79ad" text-anchor="end" textLength="9.5" lengthAdjust="spacingAndGlyphs">20</text>
<text x="11.1" y="314.332" font-size="7.2" font-weight="normal" fill="#d0415a" text-anchor="start" textLength="44.4" lengthAdjust="spacingAndGlyphs">Less than optimal</text>
<text x="44.0" y="321.666" font-size="7.2" font-weight="normal" fill="#3f79ad" text-anchor="start" textLength="11.9" lengthAdjust="spacingAndGlyphs">Poor</text>
<line x1="77.8" y1="326.4" x2="77.8" y2="329.4" stroke="#3a3a3a" stroke-width="1"/>
<text transform="translate(79.8,334.59999999999997) rotate(-45)" font-size="7.6" font-weight="normal" fill="#555" text-anchor="end">&lt;=0.2</text>
<line x1="89.05" y1="326.4" x2="89.05" y2="329.4" stroke="#3a3a3a" stroke-width="1"/>
<text transform="translate(91.05,334.59999999999997) rotate(-45)" font-size="7.6" font-weight="normal" fill="#555" text-anchor="end">0.2-0.3</text>
<line x1="100.3" y1="326.4" x2="100.3" y2="329.4" stroke="#3a3a3a" stroke-width="1"/>
<text transform="translate(102.3,334.59999999999997) rotate(-45)" font-size="7.6" font-weight="normal" fill="#555" text-anchor="end">0.3-0.4</text>
<line x1="111.55" y1="326.4" x2="111.55" y2="329.4" stroke="#3a3a3a" stroke-width="1"/>
<text transform="translate(113.55,334.59999999999997) rotate(-45)" font-size="7.6" font-weight="normal" fill="#555" text-anchor="end">0.4-0.5</text>
<line x1="122.8" y1="326.4" x2="122.8" y2="329.4" stroke="#3a3a3a" stroke-width="1"/>
<text transform="translate(124.8,334.59999999999997) rotate(-45)" font-size="7.6" font-weight="normal" fill="#555" text-anchor="end">0.5-0.6</text>
<line x1="134.05" y1="326.4" x2="134.05" y2="329.4" stroke="#3a3a3a" stroke-width="1"/>
<text transform="translate(136.05,334.59999999999997) rotate(-45)" font-size="7.6" font-weight="normal" fill="#555" text-anchor="end">0.6-0.7</text>
<line x1="145.3" y1="326.4" x2="145.3" y2="329.4" stroke="#3a3a3a" stroke-width="1"/>
<text transform="translate(147.3,334.59999999999997) rotate(-45)" font-size="7.6" font-weight="normal" fill="#555" text-anchor="end">0.7-0.8</text>
<line x1="156.55" y1="326.4" x2="156.55" y2="329.4" stroke="#3a3a3a" stroke-width="1"/>
<text transform="translate(158.55,334.59999999999997) rotate(-45)" font-size="7.6" font-weight="normal" fill="#555" text-anchor="end">0.8-0.9</text>
<line x1="167.8" y1="326.4" x2="167.8" y2="329.4" stroke="#3a3a3a" stroke-width="1"/>
<text transform="translate(169.8,334.59999999999997) rotate(-45)" font-size="7.6" font-weight="normal" fill="#555" text-anchor="end">0.9-1</text>
<text x="97.3" y="359.70000000000005" font-size="8.6" font-weight="normal" fill="#222" text-anchor="start" textLength="50" lengthAdjust="spacingAndGlyphs" stroke="#222" stroke-width="0.4">Mobilization score</text>
<text x="266.6" y="16.2" font-size="8.8" font-weight="normal" fill="#1a1a1a" text-anchor="start" textLength="77.8" lengthAdjust="spacingAndGlyphs" stroke="#1a1a1a" stroke-width="0.4">Frequency distribution</text>
<text x="279.4" y="27.0" font-size="8.8" font-weight="normal" fill="#1a1a1a" text-anchor="start" textLength="51.9" lengthAdjust="spacingAndGlyphs" stroke="#1a1a1a" stroke-width="0.4">Random forest</text>
<text transform="translate(213.4,82.7) rotate(-90)" font-size="8.6" font-weight="normal" fill="#222" text-anchor="middle" textLength="51.5" lengthAdjust="spacingAndGlyphs" stroke="#222" stroke-width="0.15">Number of donors</text>
<rect x="235.00" y="34.80" width="11.00" height="2.60" fill="#c8102e"/>
<text x="248.6" y="38.19999999999999" font-size="6.6" font-weight="normal" fill="#555" text-anchor="start" textLength="11.5" lengthAdjust="spacingAndGlyphs">Poor</text>
<rect x="235.00" y="43.70" width="11.00" height="2.60" fill="#0d3d7a"/>
<text x="248.6" y="47.09999999999999" font-size="6.6" font-weight="normal" fill="#555" text-anchor="start" textLength="45.3" lengthAdjust="spacingAndGlyphs">Less-than-optimal</text>
<rect x="235.00" y="52.50" width="11.00" height="2.60" fill="#2ab04a"/>
<text x="248.6" y="55.89999999999999" font-size="6.6" font-weight="normal" fill="#555" text-anchor="start" textLength="13.6" lengthAdjust="spacingAndGlyphs">Good</text>
<rect x="233.40" y="132.12" width="1.60" height="2.08" fill="#e2566f"/>
<rect x="235.80" y="127.96" width="1.60" height="6.24" fill="#2f64a0"/>
<rect x="238.15" y="133.16" width="1.60" height="1.04" fill="#52c064"/>
<rect x="241.75" y="133.16" width="1.60" height="1.04" fill="#e2566f"/>
<rect x="244.15" y="129.00" width="1.60" height="5.20" fill="#2f64a0"/>
<rect x="250.10" y="129.00" width="1.60" height="5.20" fill="#e2566f"/>
<rect x="252.50" y="129.00" width="1.60" height="5.20" fill="#2f64a0"/>
<rect x="254.85" y="132.12" width="1.60" height="2.08" fill="#52c064"/>
<rect x="258.45" y="133.16" width="1.60" height="1.04" fill="#e2566f"/>
<rect x="260.85" y="121.72" width="1.60" height="12.48" fill="#2f64a0"/>
<rect x="263.20" y="130.04" width="1.60" height="4.16" fill="#52c064"/>
<rect x="266.80" y="130.04" width="1.60" height="4.16" fill="#e2566f"/>
<rect x="269.20" y="115.48" width="1.60" height="18.72" fill="#2f64a0"/>
<rect x="271.55" y="124.84" width="1.60" height="9.36" fill="#52c064"/>
<rect x="275.15" y="130.04" width="1.60" height="4.16" fill="#e2566f"/>
<rect x="277.55" y="116.52" width="1.60" height="17.68" fill="#2f64a0"/>
<rect x="279.90" y="120.68" width="1.60" height="13.52" fill="#52c064"/>
<rect x="283.50" y="129.00" width="1.60" height="5.20" fill="#e2566f"/>
<rect x="285.90" y="119.64" width="1.60" height="14.56" fill="#2f64a0"/>
<rect x="288.25" y="120.68" width="1.60" height="13.52" fill="#52c064"/>
<rect x="291.85" y="132.12" width="1.60" height="2.08" fill="#e2566f"/>
<rect x="294.25" y="111.32" width="1.60" height="22.88" fill="#2f64a0"/>
<rect x="296.60" y="103.00" width="1.60" height="31.20" fill="#52c064"/>
<rect x="300.20" y="133.16" width="1.60" height="1.04" fill="#e2566f"/>
<rect x="302.60" y="122.76" width="1.60" height="11.44" fill="#2f64a0"/>
<rect x="304.95" y="84.28" width="1.60" height="49.92" fill="#52c064"/>
<rect x="308.55" y="132.12" width="1.60" height="2.08" fill="#e2566f"/>
<rect x="310.95" y="127.96" width="1.60" height="6.24" fill="#2f64a0"/>
<rect x="313.30" y="80.12" width="1.60" height="54.08" fill="#52c064"/>
<rect x="316.90" y="132.12" width="1.60" height="2.08" fill="#e2566f"/>
<rect x="319.30" y="125.88" width="1.60" height="8.32" fill="#2f64a0"/>
<rect x="321.65" y="66.60" width="1.60" height="67.60" fill="#52c064"/>
<rect x="325.25" y="130.04" width="1.60" height="4.16" fill="#e2566f"/>
<rect x="327.65" y="129.00" width="1.60" height="5.20" fill="#2f64a0"/>
<rect x="330.00" y="52.04" width="1.60" height="82.16" fill="#52c064"/>
<rect x="336.00" y="132.12" width="1.60" height="2.08" fill="#2f64a0"/>
<rect x="338.35" y="64.52" width="1.60" height="69.68" fill="#52c064"/>
<rect x="341.95" y="132.12" width="1.60" height="2.08" fill="#e2566f"/>
<rect x="344.35" y="131.08" width="1.60" height="3.12" fill="#2f64a0"/>
<rect x="346.70" y="48.92" width="1.60" height="85.28" fill="#52c064"/>
<rect x="352.70" y="133.16" width="1.60" height="1.04" fill="#2f64a0"/>
<rect x="355.05" y="62.44" width="1.60" height="71.76" fill="#52c064"/>
<rect x="363.40" y="92.60" width="1.60" height="41.60" fill="#52c064"/>
<rect x="371.75" y="94.68" width="1.60" height="39.52" fill="#52c064"/>
<rect x="380.10" y="118.60" width="1.60" height="15.60" fill="#52c064"/>
<line x1="232.8" y1="29.69999999999999" x2="232.8" y2="134.79999999999998" stroke="#444" stroke-width="1.2"/>
<line x1="232.20000000000002" y1="134.2" x2="382.5" y2="134.2" stroke="#333" stroke-width="1.3"/>
<line x1="230.20000000000002" y1="134.2" x2="232.8" y2="134.2" stroke="#444" stroke-width="1"/>
<text x="227.3" y="137.1" font-size="8.2" font-weight="normal" fill="#666" text-anchor="end" textLength="4.2" lengthAdjust="spacingAndGlyphs">0</text>
<line x1="230.20000000000002" y1="113.39999999999999" x2="232.8" y2="113.39999999999999" stroke="#444" stroke-width="1"/>
<text x="227.3" y="116.3" font-size="8.2" font-weight="normal" fill="#666" text-anchor="end" textLength="8.2" lengthAdjust="spacingAndGlyphs">20</text>
<line x1="230.20000000000002" y1="92.6" x2="232.8" y2="92.6" stroke="#444" stroke-width="1"/>
<text x="227.3" y="95.5" font-size="8.2" font-weight="normal" fill="#666" text-anchor="end" textLength="8.2" lengthAdjust="spacingAndGlyphs">40</text>
<line x1="230.20000000000002" y1="71.79999999999998" x2="232.8" y2="71.79999999999998" stroke="#444" stroke-width="1"/>
<text x="227.3" y="74.69999999999999" font-size="8.2" font-weight="normal" fill="#666" text-anchor="end" textLength="8.2" lengthAdjust="spacingAndGlyphs">60</text>
<line x1="230.20000000000002" y1="50.999999999999986" x2="232.8" y2="50.999999999999986" stroke="#444" stroke-width="1"/>
<text x="227.3" y="53.899999999999984" font-size="8.2" font-weight="normal" fill="#666" text-anchor="end" textLength="8.2" lengthAdjust="spacingAndGlyphs">80</text>
<line x1="230.20000000000002" y1="30.19999999999999" x2="232.8" y2="30.19999999999999" stroke="#444" stroke-width="1"/>
<text x="227.3" y="33.09999999999999" font-size="8.2" font-weight="normal" fill="#666" text-anchor="end" textLength="11.6" lengthAdjust="spacingAndGlyphs">100</text>
<line x1="236.5" y1="134.2" x2="236.5" y2="136.7" stroke="#333" stroke-width="1"/>
<text transform="translate(239.8,141.6) rotate(-45)" font-size="7.3" font-weight="normal" fill="#666" text-anchor="end">0.10</text>
<line x1="244.85" y1="134.2" x2="244.85" y2="136.7" stroke="#333" stroke-width="1"/>
<text transform="translate(248.15,141.6) rotate(-45)" font-size="7.3" font-weight="normal" fill="#666" text-anchor="end">0.15</text>
<line x1="253.2" y1="134.2" x2="253.2" y2="136.7" stroke="#333" stroke-width="1"/>
<text transform="translate(256.5,141.6) rotate(-45)" font-size="7.3" font-weight="normal" fill="#666" text-anchor="end">0.20</text>
<line x1="261.55" y1="134.2" x2="261.55" y2="136.7" stroke="#333" stroke-width="1"/>
<text transform="translate(264.85,141.6) rotate(-45)" font-size="7.3" font-weight="normal" fill="#666" text-anchor="end">0.25</text>
<line x1="269.9" y1="134.2" x2="269.9" y2="136.7" stroke="#333" stroke-width="1"/>
<text transform="translate(273.2,141.6) rotate(-45)" font-size="7.3" font-weight="normal" fill="#666" text-anchor="end">0.30</text>
<line x1="278.25" y1="134.2" x2="278.25" y2="136.7" stroke="#333" stroke-width="1"/>
<text transform="translate(281.55,141.6) rotate(-45)" font-size="7.3" font-weight="normal" fill="#666" text-anchor="end">0.35</text>
<line x1="286.6" y1="134.2" x2="286.6" y2="136.7" stroke="#333" stroke-width="1"/>
<text transform="translate(289.90000000000003,141.6) rotate(-45)" font-size="7.3" font-weight="normal" fill="#666" text-anchor="end">0.40</text>
<line x1="294.95" y1="134.2" x2="294.95" y2="136.7" stroke="#333" stroke-width="1"/>
<text transform="translate(298.25,141.6) rotate(-45)" font-size="7.3" font-weight="normal" fill="#666" text-anchor="end">0.45</text>
<line x1="303.3" y1="134.2" x2="303.3" y2="136.7" stroke="#333" stroke-width="1"/>
<text transform="translate(306.6,141.6) rotate(-45)" font-size="7.3" font-weight="normal" fill="#666" text-anchor="end">0.50</text>
<line x1="311.65" y1="134.2" x2="311.65" y2="136.7" stroke="#333" stroke-width="1"/>
<text transform="translate(314.95,141.6) rotate(-45)" font-size="7.3" font-weight="normal" fill="#666" text-anchor="end">0.55</text>
<line x1="320.0" y1="134.2" x2="320.0" y2="136.7" stroke="#333" stroke-width="1"/>
<text transform="translate(323.3,141.6) rotate(-45)" font-size="7.3" font-weight="normal" fill="#666" text-anchor="end">0.60</text>
<line x1="328.35" y1="134.2" x2="328.35" y2="136.7" stroke="#333" stroke-width="1"/>
<text transform="translate(331.65000000000003,141.6) rotate(-45)" font-size="7.3" font-weight="normal" fill="#666" text-anchor="end">0.65</text>
<line x1="336.7" y1="134.2" x2="336.7" y2="136.7" stroke="#333" stroke-width="1"/>
<text transform="translate(340.0,141.6) rotate(-45)" font-size="7.3" font-weight="normal" fill="#666" text-anchor="end">0.70</text>
<line x1="345.05" y1="134.2" x2="345.05" y2="136.7" stroke="#333" stroke-width="1"/>
<text transform="translate(348.35,141.6) rotate(-45)" font-size="7.3" font-weight="normal" fill="#666" text-anchor="end">0.75</text>
<line x1="353.4" y1="134.2" x2="353.4" y2="136.7" stroke="#333" stroke-width="1"/>
<text transform="translate(356.7,141.6) rotate(-45)" font-size="7.3" font-weight="normal" fill="#666" text-anchor="end">0.80</text>
<line x1="361.75" y1="134.2" x2="361.75" y2="136.7" stroke="#333" stroke-width="1"/>
<text transform="translate(365.05,141.6) rotate(-45)" font-size="7.3" font-weight="normal" fill="#666" text-anchor="end">0.85</text>
<line x1="370.1" y1="134.2" x2="370.1" y2="136.7" stroke="#333" stroke-width="1"/>
<text transform="translate(373.40000000000003,141.6) rotate(-45)" font-size="7.3" font-weight="normal" fill="#666" text-anchor="end">0.90</text>
<line x1="378.45" y1="134.2" x2="378.45" y2="136.7" stroke="#333" stroke-width="1"/>
<text transform="translate(381.75,141.6) rotate(-45)" font-size="7.3" font-weight="normal" fill="#666" text-anchor="end">0.95</text>
<text x="282" y="162.4" font-size="8.6" font-weight="normal" fill="#222" text-anchor="start" textLength="50.3" lengthAdjust="spacingAndGlyphs" stroke="#222" stroke-width="0.4">Mobilization score</text>
<text x="267.3" y="205.2" font-size="8.8" font-weight="normal" fill="#1a1a1a" text-anchor="start" textLength="78.9" lengthAdjust="spacingAndGlyphs" stroke="#1a1a1a" stroke-width="0.4">Frequency distribution</text>
<text x="289.4" y="216.0" font-size="8.8" font-weight="normal" fill="#1a1a1a" text-anchor="start" textLength="35.0" lengthAdjust="spacingAndGlyphs" stroke="#1a1a1a" stroke-width="0.4">AdaBoost</text>
<text transform="translate(213.4,278.0) rotate(-90)" font-size="8.6" font-weight="normal" fill="#222" text-anchor="middle" textLength="50.6" lengthAdjust="spacingAndGlyphs" stroke="#222" stroke-width="0.15">Number of donors</text>
<rect x="235.00" y="229.90" width="11.00" height="2.60" fill="#c8102e"/>
<text x="248.6" y="233.3" font-size="6.6" font-weight="normal" fill="#555" text-anchor="start" textLength="11.5" lengthAdjust="spacingAndGlyphs">Poor</text>
<rect x="235.00" y="239.20" width="11.00" height="2.60" fill="#0d3d7a"/>
<text x="248.6" y="242.60000000000002" font-size="6.6" font-weight="normal" fill="#555" text-anchor="start" textLength="45.3" lengthAdjust="spacingAndGlyphs">Less-than-optimal</text>
<rect x="235.00" y="247.90" width="11.00" height="2.60" fill="#2ab04a"/>
<text x="248.6" y="251.3" font-size="6.6" font-weight="normal" fill="#555" text-anchor="start" textLength="13.6" lengthAdjust="spacingAndGlyphs">Good</text>
<rect x="233.20" y="326.72" width="1.60" height="2.58" fill="#e2566f"/>
<rect x="235.60" y="325.43" width="1.60" height="3.87" fill="#2f64a0"/>
<rect x="237.95" y="328.01" width="1.60" height="1.29" fill="#52c064"/>
<rect x="241.14" y="328.01" width="1.60" height="1.29" fill="#e2566f"/>
<rect x="243.54" y="321.56" width="1.60" height="7.74" fill="#2f64a0"/>
<rect x="249.08" y="328.01" width="1.60" height="1.29" fill="#e2566f"/>
<rect x="251.48" y="317.69" width="1.60" height="11.61" fill="#2f64a0"/>
<rect x="257.02" y="322.85" width="1.60" height="6.45" fill="#e2566f"/>
<rect x="259.42" y="309.95" width="1.60" height="19.35" fill="#2f64a0"/>
<rect x="261.77" y="318.98" width="1.60" height="10.32" fill="#52c064"/>
<rect x="264.96" y="324.14" width="1.60" height="5.16" fill="#e2566f"/>
<rect x="267.36" y="311.24" width="1.60" height="18.06" fill="#2f64a0"/>
<rect x="269.71" y="318.98" width="1.60" height="10.32" fill="#52c064"/>
<rect x="272.90" y="320.27" width="1.60" height="9.03" fill="#e2566f"/>
<rect x="275.30" y="309.95" width="1.60" height="19.35" fill="#2f64a0"/>
<rect x="277.65" y="321.56" width="1.60" height="7.74" fill="#52c064"/>
<rect x="280.84" y="325.43" width="1.60" height="3.87" fill="#e2566f"/>
<rect x="283.24" y="306.08" width="1.60" height="23.22" fill="#2f64a0"/>
<rect x="285.59" y="302.21" width="1.60" height="27.09" fill="#52c064"/>
<rect x="288.78" y="324.14" width="1.60" height="5.16" fill="#e2566f"/>
<rect x="291.18" y="313.82" width="1.60" height="15.48" fill="#2f64a0"/>
<rect x="293.53" y="289.31" width="1.60" height="39.99" fill="#52c064"/>
<rect x="299.12" y="308.66" width="1.60" height="20.64" fill="#2f64a0"/>
<rect x="301.47" y="273.83" width="1.60" height="55.47" fill="#52c064"/>
<rect x="307.06" y="315.11" width="1.60" height="14.19" fill="#2f64a0"/>
<rect x="309.41" y="257.06" width="1.60" height="72.24" fill="#52c064"/>
<rect x="312.60" y="324.14" width="1.60" height="5.16" fill="#e2566f"/>
<rect x="315.00" y="322.85" width="1.60" height="6.45" fill="#2f64a0"/>
<rect x="317.35" y="232.55" width="1.60" height="96.75" fill="#52c064"/>
<rect x="320.54" y="328.01" width="1.60" height="1.29" fill="#e2566f"/>
<rect x="322.94" y="320.27" width="1.60" height="9.03" fill="#2f64a0"/>
<rect x="325.29" y="245.45" width="1.60" height="83.85" fill="#52c064"/>
<rect x="330.88" y="326.72" width="1.60" height="2.58" fill="#2f64a0"/>
<rect x="333.23" y="240.29" width="1.60" height="89.01" fill="#52c064"/>
<rect x="336.42" y="328.01" width="1.60" height="1.29" fill="#e2566f"/>
<rect x="338.82" y="325.43" width="1.60" height="3.87" fill="#2f64a0"/>
<rect x="341.17" y="231.26" width="1.60" height="98.04" fill="#52c064"/>
<rect x="344.36" y="328.01" width="1.60" height="1.29" fill="#e2566f"/>
<rect x="349.11" y="246.74" width="1.60" height="82.56" fill="#52c064"/>
<rect x="357.05" y="244.16" width="1.60" height="85.14" fill="#52c064"/>
<rect x="364.99" y="289.31" width="1.60" height="39.99" fill="#52c064"/>
<rect x="372.93" y="321.56" width="1.60" height="7.74" fill="#52c064"/>
<rect x="380.87" y="326.72" width="1.60" height="2.58" fill="#52c064"/>
<line x1="232.8" y1="225.60000000000002" x2="232.8" y2="329.90000000000003" stroke="#444" stroke-width="1.2"/>
<line x1="232.20000000000002" y1="329.3" x2="382.3" y2="329.3" stroke="#333" stroke-width="1.3"/>
<line x1="230.20000000000002" y1="329.3" x2="232.8" y2="329.3" stroke="#444" stroke-width="1"/>
<text x="227.3" y="332.2" font-size="8.2" font-weight="normal" fill="#666" text-anchor="end" textLength="4.2" lengthAdjust="spacingAndGlyphs">0</text>
<line x1="230.20000000000002" y1="303.5" x2="232.8" y2="303.5" stroke="#444" stroke-width="1"/>
<text x="227.3" y="306.4" font-size="8.2" font-weight="normal" fill="#666" text-anchor="end" textLength="8.2" lengthAdjust="spacingAndGlyphs">20</text>
<line x1="230.20000000000002" y1="277.7" x2="232.8" y2="277.7" stroke="#444" stroke-width="1"/>
<text x="227.3" y="280.59999999999997" font-size="8.2" font-weight="normal" fill="#666" text-anchor="end" textLength="8.2" lengthAdjust="spacingAndGlyphs">40</text>
<line x1="230.20000000000002" y1="251.9" x2="232.8" y2="251.9" stroke="#444" stroke-width="1"/>
<text x="227.3" y="254.8" font-size="8.2" font-weight="normal" fill="#666" text-anchor="end" textLength="8.2" lengthAdjust="spacingAndGlyphs">60</text>
<line x1="230.20000000000002" y1="226.10000000000002" x2="232.8" y2="226.10000000000002" stroke="#444" stroke-width="1"/>
<text x="227.3" y="229.00000000000003" font-size="8.2" font-weight="normal" fill="#666" text-anchor="end" textLength="8.2" lengthAdjust="spacingAndGlyphs">80</text>
<line x1="236.3" y1="329.3" x2="236.3" y2="331.8" stroke="#333" stroke-width="1"/>
<text transform="translate(239.3,337.3) rotate(-45)" font-size="6.9" font-weight="normal" fill="#666" text-anchor="end">0.10</text>
<line x1="244.24" y1="329.3" x2="244.24" y2="331.8" stroke="#333" stroke-width="1"/>
<text transform="translate(247.24,337.3) rotate(-45)" font-size="6.9" font-weight="normal" fill="#666" text-anchor="end">0.15</text>
<line x1="252.18" y1="329.3" x2="252.18" y2="331.8" stroke="#333" stroke-width="1"/>
<text transform="translate(255.18,337.3) rotate(-45)" font-size="6.9" font-weight="normal" fill="#666" text-anchor="end">0.20</text>
<line x1="260.12" y1="329.3" x2="260.12" y2="331.8" stroke="#333" stroke-width="1"/>
<text transform="translate(263.12,337.3) rotate(-45)" font-size="6.9" font-weight="normal" fill="#666" text-anchor="end">0.25</text>
<line x1="268.06" y1="329.3" x2="268.06" y2="331.8" stroke="#333" stroke-width="1"/>
<text transform="translate(271.06,337.3) rotate(-45)" font-size="6.9" font-weight="normal" fill="#666" text-anchor="end">0.30</text>
<line x1="276.0" y1="329.3" x2="276.0" y2="331.8" stroke="#333" stroke-width="1"/>
<text transform="translate(279.0,337.3) rotate(-45)" font-size="6.9" font-weight="normal" fill="#666" text-anchor="end">0.35</text>
<line x1="283.94" y1="329.3" x2="283.94" y2="331.8" stroke="#333" stroke-width="1"/>
<text transform="translate(286.94,337.3) rotate(-45)" font-size="6.9" font-weight="normal" fill="#666" text-anchor="end">0.40</text>
<line x1="291.88" y1="329.3" x2="291.88" y2="331.8" stroke="#333" stroke-width="1"/>
<text transform="translate(294.88,337.3) rotate(-45)" font-size="6.9" font-weight="normal" fill="#666" text-anchor="end">0.45</text>
<line x1="299.82" y1="329.3" x2="299.82" y2="331.8" stroke="#333" stroke-width="1"/>
<text transform="translate(302.82,337.3) rotate(-45)" font-size="6.9" font-weight="normal" fill="#666" text-anchor="end">0.50</text>
<line x1="307.76" y1="329.3" x2="307.76" y2="331.8" stroke="#333" stroke-width="1"/>
<text transform="translate(310.76,337.3) rotate(-45)" font-size="6.9" font-weight="normal" fill="#666" text-anchor="end">0.55</text>
<line x1="315.70000000000005" y1="329.3" x2="315.70000000000005" y2="331.8" stroke="#333" stroke-width="1"/>
<text transform="translate(318.70000000000005,337.3) rotate(-45)" font-size="6.9" font-weight="normal" fill="#666" text-anchor="end">0.60</text>
<line x1="323.64" y1="329.3" x2="323.64" y2="331.8" stroke="#333" stroke-width="1"/>
<text transform="translate(326.64,337.3) rotate(-45)" font-size="6.9" font-weight="normal" fill="#666" text-anchor="end">0.65</text>
<line x1="331.58000000000004" y1="329.3" x2="331.58000000000004" y2="331.8" stroke="#333" stroke-width="1"/>
<text transform="translate(334.58000000000004,337.3) rotate(-45)" font-size="6.9" font-weight="normal" fill="#666" text-anchor="end">0.70</text>
<line x1="339.52" y1="329.3" x2="339.52" y2="331.8" stroke="#333" stroke-width="1"/>
<text transform="translate(342.52,337.3) rotate(-45)" font-size="6.9" font-weight="normal" fill="#666" text-anchor="end">0.75</text>
<line x1="347.46000000000004" y1="329.3" x2="347.46000000000004" y2="331.8" stroke="#333" stroke-width="1"/>
<text transform="translate(350.46000000000004,337.3) rotate(-45)" font-size="6.9" font-weight="normal" fill="#666" text-anchor="end">0.80</text>
<line x1="355.40000000000003" y1="329.3" x2="355.40000000000003" y2="331.8" stroke="#333" stroke-width="1"/>
<text transform="translate(358.40000000000003,337.3) rotate(-45)" font-size="6.9" font-weight="normal" fill="#666" text-anchor="end">0.85</text>
<line x1="363.34000000000003" y1="329.3" x2="363.34000000000003" y2="331.8" stroke="#333" stroke-width="1"/>
<text transform="translate(366.34000000000003,337.3) rotate(-45)" font-size="6.9" font-weight="normal" fill="#666" text-anchor="end">0.90</text>
<line x1="371.28000000000003" y1="329.3" x2="371.28000000000003" y2="331.8" stroke="#333" stroke-width="1"/>
<text transform="translate(374.28000000000003,337.3) rotate(-45)" font-size="6.9" font-weight="normal" fill="#666" text-anchor="end">0.95</text>
<line x1="379.22" y1="329.3" x2="379.22" y2="331.8" stroke="#333" stroke-width="1"/>
<text transform="translate(382.22,337.3) rotate(-45)" font-size="6.9" font-weight="normal" fill="#666" text-anchor="end">1.00</text>
<text x="282" y="357.6" font-size="8.6" font-weight="normal" fill="#222" text-anchor="start" textLength="50.3" lengthAdjust="spacingAndGlyphs" stroke="#222" stroke-width="0.4">Mobilization score</text>
<text x="437.3" y="13.5" font-size="8.8" font-weight="normal" fill="#1a1a1a" text-anchor="start" textLength="59.8" lengthAdjust="spacingAndGlyphs" stroke="#1a1a1a" stroke-width="0.4">Confusion matrix</text>
<text x="451.6" y="26.0" font-size="8.6" font-weight="normal" fill="#444" text-anchor="start" textLength="29.4" lengthAdjust="spacingAndGlyphs">Predicted</text>
<text x="416.9" y="34.6" font-size="7.4" font-weight="normal" fill="#444" text-anchor="start" textLength="56.0" lengthAdjust="spacingAndGlyphs">Less-than-optimal</text>
<text x="480.2" y="34.6" font-size="7.4" font-weight="normal" fill="#444" text-anchor="start" textLength="15.8" lengthAdjust="spacingAndGlyphs">Good</text>
<rect x="423.30" y="40.20" width="42.75" height="44.45" fill="#df8393"/>
<rect x="466.35" y="40.20" width="42.95" height="44.45" fill="#f7d8df"/>
<rect x="423.30" y="84.95" width="42.75" height="44.65" fill="#efb4c1"/>
<rect x="466.35" y="84.95" width="42.95" height="44.65" fill="#5c2468"/>
<text x="444.75" y="64.95" font-size="6.3" font-weight="normal" fill="#3a3a3a" text-anchor="middle">127</text>
<text x="487.75" y="64.95" font-size="6.3" font-weight="normal" fill="#555" text-anchor="middle">44</text>
<text x="444.75" y="110.7" font-size="6.3" font-weight="normal" fill="#555" text-anchor="middle">92</text>
<text x="487.75" y="110.7" font-size="6.3" font-weight="normal" fill="#e0d0e8" text-anchor="middle">536</text>
<line x1="444.75" y1="37.7" x2="444.75" y2="40.2" stroke="#333" stroke-width="1"/>
<line x1="487.75" y1="37.7" x2="487.75" y2="40.2" stroke="#333" stroke-width="1"/>
<line x1="420.3" y1="62.5" x2="423.3" y2="62.5" stroke="#333" stroke-width="1"/>
<line x1="420.3" y1="107.19999999999999" x2="423.3" y2="107.19999999999999" stroke="#333" stroke-width="1"/>
<text transform="translate(406.3,84.85) rotate(-90)" font-size="7.6" font-weight="bold" fill="#222" text-anchor="middle" textLength="17.1" lengthAdjust="spacingAndGlyphs">Actual</text>
<text transform="translate(417.3,62.4) rotate(-90)" font-size="7.4" font-weight="normal" fill="#444" text-anchor="middle" textLength="48.3" lengthAdjust="spacingAndGlyphs">Less-than-optimal</text>
<text transform="translate(417.3,108.0) rotate(-90)" font-size="7.4" font-weight="normal" fill="#444" text-anchor="middle" textLength="16.0" lengthAdjust="spacingAndGlyphs">Good</text>
<text x="446.2" y="140.4" font-size="8.4" font-weight="normal" fill="#222" text-anchor="start" textLength="40.4" lengthAdjust="spacingAndGlyphs" stroke="#222" stroke-width="0.4">Random forest</text>
<text x="442" y="153.2" font-size="7.4" font-weight="normal" fill="#555" text-anchor="start" textLength="34.2" lengthAdjust="spacingAndGlyphs">PPV: 74.3%</text>
<text x="442" y="162.4" font-size="7.4" font-weight="normal" fill="#555" text-anchor="start" textLength="34.5" lengthAdjust="spacingAndGlyphs">NPV: 85.4%</text>
<text x="442" y="171.2" font-size="7.4" font-weight="normal" fill="#555" text-anchor="start" textLength="41.0" lengthAdjust="spacingAndGlyphs">Accuracy: 83%</text>
<text x="438.75" y="200.5" font-size="8.8" font-weight="normal" fill="#1a1a1a" text-anchor="start" textLength="61.25" lengthAdjust="spacingAndGlyphs" stroke="#1a1a1a" stroke-width="0.4">Confusion matrix</text>
<text x="454.5" y="214.5" font-size="8.6" font-weight="normal" fill="#444" text-anchor="start" textLength="30.0" lengthAdjust="spacingAndGlyphs">Predicted</text>
<text x="418.75" y="223.75" font-size="7.4" font-weight="normal" fill="#444" text-anchor="start" textLength="56.25" lengthAdjust="spacingAndGlyphs">Less-than-optimal</text>
<text x="483.0" y="223.75" font-size="7.4" font-weight="normal" fill="#444" text-anchor="start" textLength="17.0" lengthAdjust="spacingAndGlyphs">Good</text>
<rect x="425.50" y="228.70" width="43.65" height="45.65" fill="#df8393"/>
<rect x="469.45" y="228.70" width="44.35" height="45.65" fill="#f7d8df"/>
<rect x="425.50" y="274.65" width="43.65" height="45.65" fill="#efb4c1"/>
<rect x="469.45" y="274.65" width="44.35" height="45.65" fill="#5c2468"/>
<text x="447.4" y="253.79999999999998" font-size="6.3" font-weight="normal" fill="#3a3a3a" text-anchor="middle">128</text>
<text x="491.54999999999995" y="253.79999999999998" font-size="6.3" font-weight="normal" fill="#555" text-anchor="middle">43</text>
<text x="447.4" y="300.59999999999997" font-size="6.3" font-weight="normal" fill="#555" text-anchor="middle">97</text>
<text x="491.54999999999995" y="300.59999999999997" font-size="6.3" font-weight="normal" fill="#e0d0e8" text-anchor="middle">531</text>
<line x1="447.4" y1="226.2" x2="447.4" y2="228.7" stroke="#333" stroke-width="1"/>
<line x1="491.54999999999995" y1="226.2" x2="491.54999999999995" y2="228.7" stroke="#333" stroke-width="1"/>
<line x1="422.5" y1="251.6" x2="425.5" y2="251.6" stroke="#333" stroke-width="1"/>
<line x1="422.5" y1="297.4" x2="425.5" y2="297.4" stroke="#333" stroke-width="1"/>
<text transform="translate(406.3,273.85) rotate(-90)" font-size="7.6" font-weight="bold" fill="#222" text-anchor="middle" textLength="17.1" lengthAdjust="spacingAndGlyphs">Actual</text>
<text transform="translate(417.3,251.75) rotate(-90)" font-size="7.4" font-weight="normal" fill="#444" text-anchor="middle" textLength="47.5" lengthAdjust="spacingAndGlyphs">Less-than-optimal</text>
<text transform="translate(417.3,299.0) rotate(-90)" font-size="7.4" font-weight="normal" fill="#444" text-anchor="middle" textLength="18.0" lengthAdjust="spacingAndGlyphs">Good</text>
<text x="456.5" y="330.8" font-size="8.4" font-weight="normal" fill="#222" text-anchor="start" textLength="25.8" lengthAdjust="spacingAndGlyphs" stroke="#222" stroke-width="0.4">AdaBoost</text>
<text x="443" y="343.5" font-size="7.4" font-weight="normal" fill="#555" text-anchor="start" textLength="34.4" lengthAdjust="spacingAndGlyphs">PPV: 74.9%</text>
<text x="443" y="352.4" font-size="7.4" font-weight="normal" fill="#555" text-anchor="start" textLength="34.7" lengthAdjust="spacingAndGlyphs">NPV: 84.6%</text>
<text x="443" y="361.2" font-size="7.4" font-weight="normal" fill="#555" text-anchor="start" textLength="46.2" lengthAdjust="spacingAndGlyphs">Accuracy: 82.5%</text>
<rect x="0.00" y="0.00" width="1.20" height="367.00" fill="#1a1a1a"/>
<rect x="0.00" y="0.00" width="520.00" height="1.10" fill="#1a1a1a"/>
<rect x="518.60" y="0.00" width="1.40" height="367.00" fill="#1a1a1a"/>
<rect x="0.00" y="365.80" width="520.00" height="1.20" fill="#1a1a1a"/></svg>
</body></html>
